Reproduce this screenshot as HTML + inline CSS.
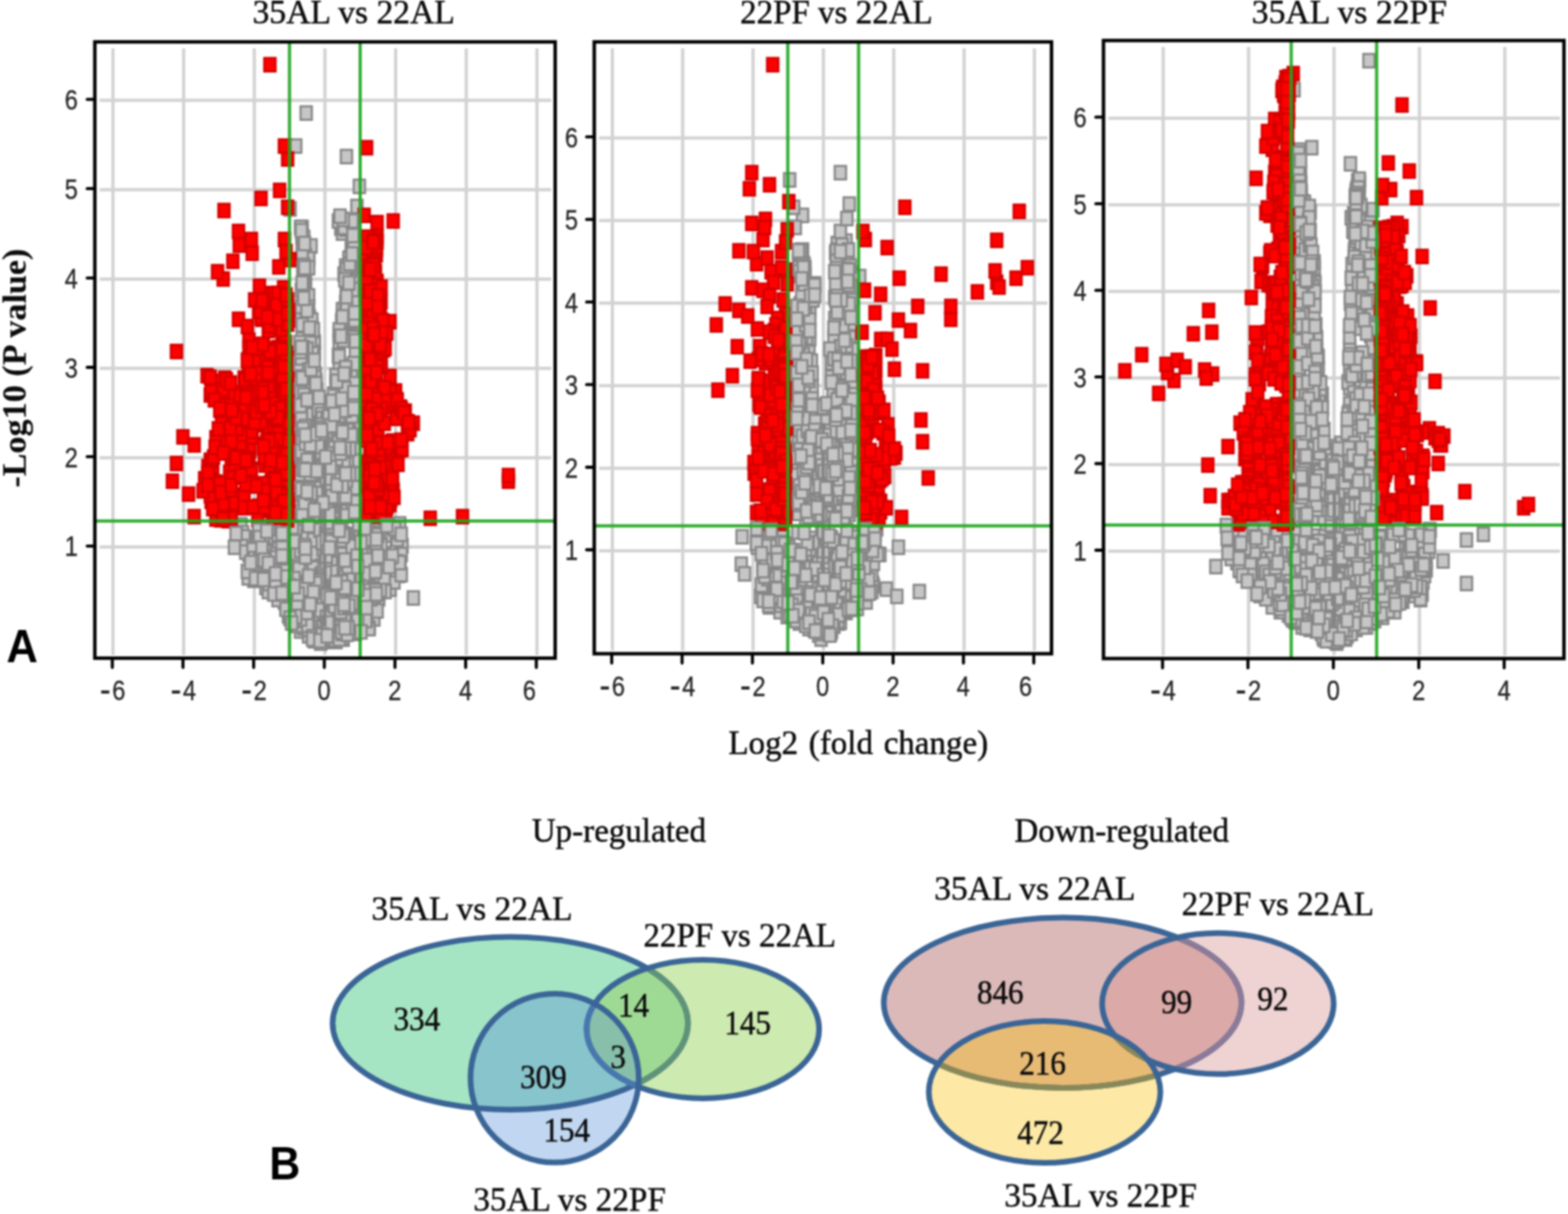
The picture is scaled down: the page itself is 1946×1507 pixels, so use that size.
<!DOCTYPE html>
<html lang="en"><head><meta charset="utf-8"><title>Figure</title>
<style>
html,body{margin:0;padding:0;background:#fff}
svg{display:block;filter:blur(1.0px)}
text{font-family:"Liberation Serif","DejaVu Serif",serif;fill:#0c0c0c;stroke:#0c0c0c;stroke-width:.55px}
.t{font-size:41px}
.n{font-size:40px}
.k text{font-family:"Liberation Sans","DejaVu Sans",sans-serif;font-size:33.5px;fill:#262626;stroke:#262626;stroke-width:.3px;text-anchor:middle}
.ab{font-family:"Liberation Sans","DejaVu Sans",sans-serif;font-weight:bold;font-size:54px;fill:#000;stroke:none}
.g rect{width:14.0px;height:16.7px;fill:#c6c6c6;stroke:#878787;stroke-width:2.7px}
.r rect{width:14.0px;height:16.7px;fill:#ff0000;stroke:#d40000;stroke-width:2.7px}
.grid{stroke:#d2d2d2;stroke-width:4;fill:none}
.gl{stroke:#1fa61f;stroke-width:4;fill:none;opacity:.92}
.fr{stroke:#000;stroke-width:4.3;fill:none}
.tk{stroke:#000;stroke-width:3.8;fill:none;stroke-linecap:round}
.ve{stroke:#3a6596;stroke-width:7;fill:none}
</style></head>
<body>
<svg width="1946" height="1507" viewBox="0 0 1946 1507">
<rect width="1946" height="1507" fill="#fff"/>
<g id="panel1">
<path class="grid" d="M140.2 60.0V813.0M227.9 60.0V813.0M315.6 60.0V813.0M403.3 60.0V813.0M491.0 60.0V813.0M578.7 60.0V813.0M666.4 60.0V813.0M123.7 679.1H684.0M123.7 568.2H684.0M123.7 457.3H684.0M123.7 346.4H684.0M123.7 235.5H684.0M123.7 124.6H684.0"/>
<g class="g"><rect x="415" y="588"/><rect x="432" y="677"/><rect x="338" y="649"/><rect x="434" y="550"/><rect x="419" y="570"/><rect x="388" y="577"/><rect x="308" y="712"/><rect x="386" y="777"/><rect x="308" y="708"/><rect x="363" y="716"/><rect x="429" y="380"/><rect x="478" y="656"/><rect x="430" y="314"/><rect x="361" y="744"/><rect x="374" y="579"/><rect x="457" y="719"/><rect x="328" y="663"/><rect x="388" y="785"/><rect x="365" y="662"/><rect x="402" y="628"/><rect x="380" y="753"/><rect x="292" y="643"/><rect x="408" y="532"/><rect x="430" y="662"/><rect x="294" y="653"/><rect x="346" y="739"/><rect x="420" y="544"/><rect x="387" y="753"/><rect x="372" y="749"/><rect x="429" y="446"/><rect x="428" y="522"/><rect x="385" y="772"/><rect x="432" y="774"/><rect x="377" y="605"/><rect x="370" y="302"/><rect x="427" y="775"/><rect x="323" y="721"/><rect x="369" y="688"/><rect x="326" y="726"/><rect x="389" y="691"/><rect x="425" y="745"/><rect x="416" y="579"/><rect x="387" y="615"/><rect x="310" y="711"/><rect x="433" y="378"/><rect x="430" y="343"/><rect x="368" y="754"/><rect x="401" y="730"/><rect x="431" y="737"/><rect x="435" y="700"/><rect x="417" y="453"/><rect x="372" y="507"/><rect x="320" y="660"/><rect x="383" y="760"/><rect x="428" y="332"/><rect x="319" y="710"/><rect x="485" y="663"/><rect x="483" y="690"/><rect x="405" y="580"/><rect x="320" y="649"/><rect x="422" y="322"/><rect x="485" y="647"/><rect x="395" y="679"/><rect x="378" y="504"/><rect x="385" y="538"/><rect x="423" y="186"/><rect x="414" y="742"/><rect x="386" y="592"/><rect x="418" y="508"/><rect x="446" y="742"/><rect x="408" y="659"/><rect x="423" y="747"/><rect x="369" y="296"/><rect x="365" y="524"/><rect x="405" y="721"/><rect x="369" y="754"/><rect x="449" y="753"/><rect x="461" y="683"/><rect x="353" y="251"/><rect x="416" y="630"/><rect x="424" y="459"/><rect x="336" y="675"/><rect x="410" y="528"/><rect x="411" y="564"/><rect x="383" y="631"/><rect x="306" y="668"/><rect x="372" y="346"/><rect x="442" y="664"/><rect x="460" y="652"/><rect x="436" y="248"/><rect x="380" y="438"/><rect x="368" y="727"/><rect x="378" y="550"/><rect x="429" y="670"/><rect x="442" y="698"/><rect x="322" y="694"/><rect x="389" y="531"/><rect x="392" y="740"/><rect x="368" y="288"/><rect x="405" y="594"/><rect x="412" y="660"/><rect x="367" y="517"/><rect x="451" y="769"/><rect x="431" y="310"/><rect x="506" y="734"/><rect x="369" y="601"/><rect x="467" y="723"/><rect x="376" y="309"/><rect x="450" y="661"/><rect x="360" y="644"/><rect x="367" y="642"/><rect x="301" y="709"/><rect x="401" y="591"/><rect x="432" y="457"/><rect x="383" y="418"/><rect x="426" y="273"/><rect x="414" y="545"/><rect x="470" y="646"/><rect x="427" y="359"/><rect x="373" y="441"/><rect x="390" y="684"/><rect x="377" y="385"/><rect x="416" y="586"/><rect x="344" y="649"/><rect x="407" y="539"/><rect x="382" y="737"/><rect x="365" y="473"/><rect x="400" y="549"/><rect x="416" y="785"/><rect x="468" y="709"/><rect x="361" y="652"/><rect x="434" y="403"/><rect x="410" y="741"/><rect x="383" y="416"/><rect x="386" y="755"/><rect x="377" y="416"/><rect x="449" y="758"/><rect x="366" y="485"/><rect x="413" y="540"/><rect x="417" y="650"/><rect x="412" y="673"/><rect x="434" y="564"/><rect x="410" y="785"/><rect x="417" y="480"/><rect x="461" y="675"/><rect x="369" y="527"/><rect x="424" y="560"/><rect x="384" y="787"/><rect x="353" y="721"/><rect x="455" y="709"/><rect x="383" y="430"/><rect x="458" y="709"/><rect x="319" y="685"/><rect x="461" y="663"/><rect x="363" y="760"/><rect x="430" y="299"/><rect x="444" y="678"/><rect x="385" y="464"/><rect x="457" y="760"/><rect x="362" y="748"/><rect x="334" y="719"/><rect x="463" y="735"/><rect x="375" y="314"/><rect x="367" y="630"/><rect x="433" y="533"/><rect x="411" y="606"/><rect x="458" y="730"/><rect x="367" y="567"/><rect x="323" y="698"/><rect x="419" y="654"/><rect x="377" y="395"/><rect x="438" y="773"/><rect x="373" y="469"/><rect x="371" y="768"/><rect x="378" y="573"/><rect x="415" y="569"/><rect x="405" y="731"/><rect x="408" y="768"/><rect x="413" y="433"/><rect x="356" y="736"/><rect x="422" y="667"/><rect x="381" y="402"/><rect x="394" y="740"/><rect x="421" y="391"/><rect x="389" y="778"/><rect x="367" y="389"/><rect x="380" y="719"/><rect x="367" y="500"/><rect x="386" y="745"/><rect x="396" y="595"/><rect x="477" y="723"/><rect x="380" y="666"/><rect x="482" y="646"/><rect x="416" y="588"/><rect x="384" y="670"/><rect x="360" y="768"/><rect x="417" y="504"/><rect x="432" y="585"/><rect x="312" y="693"/><rect x="404" y="571"/><rect x="368" y="408"/><rect x="397" y="778"/><rect x="397" y="787"/><rect x="364" y="518"/><rect x="379" y="596"/><rect x="379" y="297"/><rect x="405" y="773"/><rect x="409" y="535"/><rect x="407" y="481"/><rect x="488" y="706"/><rect x="434" y="677"/><rect x="393" y="574"/><rect x="342" y="643"/><rect x="351" y="756"/><rect x="368" y="274"/><rect x="295" y="665"/><rect x="354" y="744"/><rect x="422" y="506"/><rect x="348" y="694"/><rect x="396" y="561"/><rect x="408" y="784"/><rect x="432" y="278"/><rect x="362" y="678"/><rect x="429" y="301"/><rect x="437" y="728"/><rect x="367" y="750"/><rect x="352" y="662"/><rect x="383" y="727"/><rect x="441" y="687"/><rect x="415" y="765"/><rect x="419" y="785"/><rect x="416" y="275"/><rect x="372" y="343"/><rect x="413" y="619"/><rect x="426" y="729"/><rect x="393" y="536"/><rect x="386" y="727"/><rect x="421" y="688"/><rect x="431" y="278"/><rect x="375" y="320"/><rect x="367" y="480"/><rect x="432" y="367"/><rect x="454" y="745"/><rect x="449" y="717"/><rect x="396" y="788"/><rect x="428" y="413"/><rect x="310" y="709"/><rect x="424" y="616"/><rect x="411" y="620"/><rect x="444" y="684"/><rect x="382" y="653"/><rect x="298" y="659"/><rect x="414" y="435"/><rect x="429" y="391"/><rect x="365" y="536"/><rect x="404" y="781"/><rect x="429" y="457"/><rect x="354" y="725"/><rect x="433" y="655"/><rect x="438" y="642"/><rect x="462" y="677"/><rect x="443" y="761"/><rect x="431" y="580"/><rect x="389" y="508"/><rect x="414" y="444"/><rect x="379" y="631"/><rect x="384" y="456"/><rect x="380" y="716"/><rect x="457" y="735"/><rect x="427" y="768"/><rect x="406" y="603"/><rect x="427" y="579"/><rect x="388" y="509"/><rect x="333" y="729"/><rect x="371" y="396"/><rect x="326" y="677"/><rect x="365" y="561"/><rect x="417" y="601"/><rect x="378" y="781"/><rect x="418" y="376"/><rect x="442" y="719"/><rect x="417" y="390"/><rect x="368" y="764"/><rect x="409" y="559"/><rect x="434" y="430"/><rect x="371" y="319"/><rect x="414" y="416"/><rect x="365" y="612"/><rect x="405" y="516"/><rect x="431" y="337"/><rect x="376" y="359"/><rect x="381" y="534"/><rect x="402" y="572"/><rect x="411" y="538"/><rect x="388" y="716"/><rect x="319" y="682"/><rect x="369" y="286"/><rect x="392" y="787"/><rect x="383" y="787"/><rect x="419" y="736"/><rect x="369" y="590"/><rect x="417" y="582"/><rect x="376" y="445"/><rect x="417" y="569"/><rect x="389" y="680"/><rect x="360" y="679"/><rect x="338" y="705"/><rect x="368" y="567"/><rect x="412" y="506"/><rect x="432" y="443"/><rect x="349" y="664"/><rect x="427" y="312"/><rect x="374" y="324"/><rect x="471" y="701"/><rect x="452" y="726"/><rect x="375" y="541"/><rect x="408" y="723"/><rect x="387" y="617"/><rect x="372" y="309"/><rect x="416" y="552"/><rect x="414" y="434"/><rect x="447" y="697"/><rect x="404" y="513"/><rect x="388" y="500"/><rect x="366" y="453"/><rect x="379" y="718"/><rect x="449" y="736"/><rect x="427" y="544"/><rect x="396" y="597"/><rect x="463" y="728"/><rect x="432" y="529"/><rect x="376" y="373"/><rect x="367" y="575"/><rect x="360" y="173"/><rect x="401" y="566"/><rect x="393" y="783"/><rect x="365" y="468"/><rect x="348" y="746"/><rect x="347" y="677"/><rect x="382" y="707"/><rect x="449" y="681"/><rect x="439" y="223"/><rect x="422" y="451"/><rect x="377" y="437"/><rect x="405" y="782"/><rect x="400" y="586"/><rect x="390" y="518"/><rect x="416" y="715"/><rect x="339" y="673"/><rect x="415" y="783"/><rect x="404" y="523"/><rect x="373" y="602"/><rect x="418" y="281"/><rect x="410" y="788"/><rect x="407" y="626"/><rect x="448" y="705"/><rect x="489" y="688"/><rect x="377" y="697"/><rect x="372" y="575"/><rect x="488" y="659"/><rect x="358" y="743"/><rect x="428" y="327"/><rect x="373" y="597"/><rect x="426" y="659"/><rect x="465" y="658"/><rect x="397" y="705"/><rect x="401" y="551"/><rect x="434" y="778"/><rect x="368" y="703"/><rect x="489" y="685"/><rect x="393" y="657"/><rect x="366" y="775"/><rect x="400" y="780"/><rect x="387" y="754"/><rect x="369" y="322"/><rect x="370" y="771"/><rect x="368" y="739"/><rect x="302" y="680"/><rect x="460" y="675"/><rect x="373" y="392"/><rect x="398" y="783"/><rect x="439" y="742"/><rect x="399" y="541"/><rect x="432" y="410"/><rect x="423" y="614"/><rect x="339" y="696"/><rect x="426" y="735"/><rect x="300" y="701"/><rect x="414" y="714"/><rect x="413" y="671"/><rect x="410" y="565"/><rect x="370" y="570"/><rect x="315" y="661"/><rect x="394" y="727"/><rect x="397" y="519"/><rect x="368" y="606"/><rect x="376" y="643"/><rect x="394" y="779"/><rect x="374" y="525"/><rect x="387" y="771"/><rect x="405" y="767"/><rect x="427" y="312"/><rect x="444" y="761"/><rect x="430" y="301"/><rect x="423" y="348"/><rect x="430" y="721"/><rect x="353" y="758"/><rect x="423" y="347"/><rect x="489" y="700"/><rect x="461" y="750"/><rect x="431" y="298"/><rect x="366" y="274"/><rect x="420" y="332"/><rect x="449" y="770"/><rect x="418" y="632"/><rect x="371" y="601"/><rect x="336" y="680"/><rect x="419" y="662"/><rect x="441" y="772"/><rect x="366" y="675"/><rect x="417" y="767"/><rect x="373" y="132"/><rect x="426" y="547"/><rect x="399" y="695"/><rect x="394" y="785"/><rect x="378" y="762"/><rect x="416" y="460"/><rect x="395" y="778"/><rect x="424" y="562"/><rect x="465" y="694"/><rect x="422" y="602"/><rect x="385" y="766"/><rect x="407" y="625"/><rect x="489" y="642"/><rect x="365" y="737"/><rect x="338" y="655"/><rect x="381" y="429"/><rect x="397" y="756"/><rect x="380" y="397"/><rect x="336" y="684"/><rect x="338" y="736"/><rect x="347" y="690"/><rect x="362" y="768"/><rect x="360" y="701"/><rect x="362" y="762"/><rect x="386" y="647"/><rect x="368" y="285"/><rect x="368" y="724"/><rect x="393" y="721"/><rect x="433" y="389"/><rect x="467" y="681"/><rect x="409" y="511"/><rect x="456" y="650"/><rect x="451" y="643"/><rect x="419" y="777"/><rect x="382" y="541"/><rect x="402" y="598"/><rect x="367" y="512"/><rect x="373" y="627"/><rect x="466" y="712"/><rect x="417" y="491"/><rect x="421" y="621"/><rect x="387" y="533"/><rect x="428" y="321"/><rect x="442" y="676"/><rect x="426" y="313"/><rect x="443" y="720"/><rect x="361" y="698"/><rect x="405" y="751"/><rect x="287" y="657"/><rect x="433" y="618"/><rect x="386" y="476"/><rect x="367" y="372"/><rect x="432" y="320"/><rect x="354" y="760"/><rect x="375" y="451"/><rect x="365" y="746"/><rect x="451" y="772"/><rect x="362" y="743"/><rect x="347" y="694"/><rect x="468" y="695"/><rect x="420" y="462"/><rect x="434" y="517"/><rect x="386" y="787"/><rect x="432" y="351"/><rect x="424" y="659"/><rect x="435" y="751"/><rect x="451" y="772"/><rect x="376" y="313"/><rect x="368" y="753"/><rect x="379" y="583"/><rect x="421" y="627"/><rect x="363" y="695"/><rect x="418" y="783"/><rect x="387" y="649"/><rect x="407" y="609"/><rect x="436" y="711"/><rect x="376" y="568"/><rect x="382" y="781"/><rect x="407" y="786"/><rect x="424" y="679"/><rect x="418" y="698"/><rect x="381" y="646"/><rect x="432" y="364"/><rect x="346" y="674"/><rect x="370" y="287"/><rect x="430" y="323"/><rect x="434" y="597"/><rect x="327" y="716"/><rect x="327" y="648"/><rect x="482" y="714"/><rect x="405" y="561"/><rect x="404" y="537"/><rect x="471" y="726"/><rect x="406" y="783"/><rect x="385" y="679"/><rect x="376" y="555"/><rect x="393" y="694"/><rect x="354" y="653"/><rect x="398" y="531"/><rect x="450" y="725"/><rect x="465" y="724"/><rect x="416" y="662"/><rect x="376" y="777"/><rect x="416" y="599"/><rect x="459" y="723"/><rect x="383" y="734"/><rect x="412" y="559"/><rect x="492" y="669"/><rect x="370" y="342"/><rect x="356" y="745"/><rect x="452" y="725"/><rect x="422" y="627"/><rect x="376" y="781"/><rect x="446" y="704"/><rect x="387" y="541"/><rect x="296" y="658"/><rect x="391" y="703"/><rect x="485" y="699"/><rect x="317" y="646"/><rect x="402" y="783"/><rect x="483" y="648"/><rect x="422" y="367"/><rect x="409" y="781"/><rect x="426" y="754"/><rect x="422" y="706"/><rect x="376" y="457"/><rect x="431" y="411"/><rect x="411" y="777"/><rect x="412" y="578"/><rect x="427" y="549"/><rect x="441" y="758"/><rect x="444" y="661"/><rect x="432" y="516"/><rect x="398" y="598"/><rect x="423" y="764"/><rect x="424" y="620"/><rect x="403" y="614"/><rect x="412" y="743"/><rect x="401" y="786"/><rect x="428" y="271"/><rect x="343" y="672"/><rect x="378" y="414"/><rect x="453" y="735"/><rect x="391" y="520"/><rect x="370" y="326"/><rect x="310" y="710"/><rect x="430" y="283"/><rect x="371" y="615"/><rect x="414" y="407"/><rect x="316" y="678"/><rect x="369" y="527"/><rect x="423" y="375"/><rect x="356" y="646"/><rect x="491" y="705"/><rect x="429" y="322"/><rect x="336" y="709"/><rect x="417" y="727"/><rect x="401" y="745"/><rect x="368" y="308"/><rect x="367" y="627"/><rect x="417" y="735"/><rect x="366" y="580"/><rect x="409" y="588"/><rect x="389" y="658"/><rect x="423" y="326"/><rect x="388" y="782"/><rect x="399" y="736"/><rect x="344" y="684"/><rect x="421" y="552"/><rect x="293" y="670"/><rect x="412" y="680"/><rect x="448" y="657"/><rect x="418" y="508"/><rect x="380" y="389"/><rect x="418" y="765"/><rect x="374" y="377"/><rect x="368" y="525"/><rect x="394" y="554"/><rect x="406" y="766"/><rect x="475" y="680"/><rect x="419" y="414"/><rect x="416" y="773"/><rect x="374" y="657"/><rect x="347" y="684"/><rect x="389" y="758"/><rect x="409" y="502"/><rect x="373" y="741"/><rect x="413" y="266"/><rect x="444" y="747"/><rect x="364" y="698"/><rect x="430" y="616"/><rect x="466" y="669"/><rect x="412" y="775"/><rect x="389" y="485"/><rect x="367" y="278"/><rect x="400" y="561"/><rect x="448" y="687"/><rect x="398" y="751"/><rect x="394" y="559"/><rect x="448" y="651"/><rect x="430" y="692"/><rect x="410" y="458"/><rect x="366" y="479"/><rect x="343" y="682"/><rect x="407" y="760"/><rect x="427" y="514"/><rect x="403" y="768"/><rect x="370" y="321"/><rect x="486" y="669"/><rect x="423" y="656"/><rect x="414" y="741"/><rect x="384" y="661"/><rect x="422" y="276"/><rect x="426" y="732"/><rect x="423" y="632"/></g>
<g class="r"><rect x="348" y="557"/><rect x="454" y="370"/><rect x="344" y="418"/><rect x="317" y="369"/><rect x="316" y="451"/><rect x="466" y="561"/><rect x="476" y="614"/><rect x="447" y="318"/><rect x="329" y="457"/><rect x="450" y="481"/><rect x="329" y="591"/><rect x="309" y="429"/><rect x="339" y="323"/><rect x="460" y="592"/><rect x="450" y="456"/><rect x="448" y="318"/><rect x="488" y="545"/><rect x="345" y="365"/><rect x="350" y="432"/><rect x="327" y="544"/><rect x="499" y="530"/><rect x="476" y="562"/><rect x="624" y="589"/><rect x="276" y="638"/><rect x="267" y="637"/><rect x="317" y="238"/><rect x="259" y="622"/><rect x="316" y="509"/><rect x="331" y="509"/><rect x="474" y="497"/><rect x="341" y="586"/><rect x="321" y="543"/><rect x="314" y="620"/><rect x="291" y="606"/><rect x="448" y="486"/><rect x="450" y="389"/><rect x="451" y="602"/><rect x="315" y="420"/><rect x="456" y="329"/><rect x="468" y="407"/><rect x="477" y="459"/><rect x="449" y="350"/><rect x="469" y="426"/><rect x="347" y="434"/><rect x="347" y="445"/><rect x="345" y="446"/><rect x="330" y="575"/><rect x="479" y="590"/><rect x="458" y="354"/><rect x="455" y="295"/><rect x="466" y="447"/><rect x="499" y="515"/><rect x="341" y="590"/><rect x="331" y="444"/><rect x="351" y="613"/><rect x="339" y="503"/><rect x="343" y="528"/><rect x="457" y="357"/><rect x="331" y="356"/><rect x="350" y="602"/><rect x="447" y="323"/><rect x="448" y="349"/><rect x="465" y="364"/><rect x="348" y="440"/><rect x="328" y="358"/><rect x="343" y="607"/><rect x="261" y="636"/><rect x="459" y="385"/><rect x="300" y="577"/><rect x="207" y="589"/><rect x="310" y="435"/><rect x="305" y="289"/><rect x="350" y="457"/><rect x="282" y="616"/><rect x="472" y="546"/><rect x="302" y="414"/><rect x="473" y="603"/><rect x="448" y="621"/><rect x="451" y="388"/><rect x="346" y="484"/><rect x="314" y="378"/><rect x="306" y="306"/><rect x="448" y="578"/><rect x="284" y="498"/><rect x="451" y="582"/><rect x="457" y="332"/><rect x="339" y="366"/><rect x="299" y="500"/><rect x="261" y="590"/><rect x="348" y="563"/><rect x="277" y="485"/><rect x="270" y="338"/><rect x="320" y="420"/><rect x="303" y="551"/><rect x="455" y="332"/><rect x="332" y="445"/><rect x="477" y="618"/><rect x="271" y="489"/><rect x="452" y="374"/><rect x="331" y="581"/><rect x="350" y="637"/><rect x="460" y="621"/><rect x="288" y="544"/><rect x="452" y="557"/><rect x="450" y="503"/><rect x="333" y="485"/><rect x="304" y="579"/><rect x="337" y="430"/><rect x="296" y="609"/><rect x="496" y="502"/><rect x="299" y="589"/><rect x="306" y="474"/><rect x="278" y="600"/><rect x="456" y="363"/><rect x="284" y="574"/><rect x="449" y="476"/><rect x="317" y="519"/><rect x="346" y="608"/><rect x="257" y="571"/><rect x="270" y="543"/><rect x="461" y="286"/><rect x="340" y="611"/><rect x="453" y="545"/><rect x="298" y="567"/><rect x="332" y="539"/><rect x="479" y="567"/><rect x="281" y="521"/><rect x="280" y="562"/><rect x="350" y="603"/><rect x="451" y="627"/><rect x="338" y="400"/><rect x="284" y="568"/><rect x="453" y="497"/><rect x="348" y="430"/><rect x="325" y="537"/><rect x="339" y="433"/><rect x="267" y="478"/><rect x="476" y="492"/><rect x="334" y="549"/><rect x="341" y="433"/><rect x="448" y="532"/><rect x="302" y="561"/><rect x="256" y="475"/><rect x="309" y="364"/><rect x="350" y="530"/><rect x="263" y="329"/><rect x="296" y="622"/><rect x="338" y="423"/><rect x="453" y="486"/><rect x="331" y="384"/><rect x="463" y="597"/><rect x="448" y="394"/><rect x="481" y="266"/><rect x="450" y="330"/><rect x="336" y="487"/><rect x="325" y="530"/><rect x="462" y="363"/><rect x="527" y="635"/><rect x="272" y="536"/><rect x="348" y="580"/><rect x="296" y="461"/><rect x="448" y="566"/><rect x="457" y="296"/><rect x="322" y="563"/><rect x="347" y="417"/><rect x="460" y="407"/><rect x="267" y="614"/><rect x="290" y="296"/><rect x="332" y="425"/><rect x="457" y="290"/><rect x="449" y="403"/><rect x="323" y="568"/><rect x="272" y="461"/><rect x="452" y="374"/><rect x="306" y="534"/><rect x="327" y="469"/><rect x="465" y="586"/><rect x="451" y="565"/><rect x="345" y="462"/><rect x="335" y="577"/><rect x="339" y="505"/><rect x="448" y="576"/><rect x="322" y="569"/><rect x="337" y="479"/><rect x="506" y="517"/><rect x="448" y="538"/><rect x="269" y="630"/><rect x="449" y="309"/><rect x="336" y="491"/><rect x="481" y="600"/><rect x="293" y="540"/><rect x="448" y="288"/><rect x="456" y="461"/><rect x="452" y="434"/><rect x="328" y="621"/><rect x="350" y="249"/><rect x="453" y="630"/><rect x="227" y="605"/><rect x="300" y="530"/><rect x="347" y="430"/><rect x="316" y="440"/><rect x="472" y="547"/><rect x="343" y="474"/><rect x="350" y="491"/><rect x="450" y="293"/><rect x="459" y="308"/><rect x="449" y="341"/><rect x="255" y="614"/><rect x="448" y="327"/><rect x="270" y="529"/><rect x="280" y="635"/><rect x="327" y="445"/><rect x="454" y="360"/><rect x="447" y="592"/><rect x="328" y="435"/><rect x="466" y="444"/><rect x="343" y="489"/><rect x="264" y="468"/><rect x="478" y="612"/><rect x="450" y="432"/><rect x="271" y="617"/><rect x="305" y="574"/><rect x="254" y="563"/><rect x="350" y="500"/><rect x="348" y="556"/><rect x="350" y="514"/><rect x="341" y="585"/><rect x="459" y="630"/><rect x="463" y="434"/><rect x="478" y="591"/><rect x="350" y="590"/><rect x="447" y="631"/><rect x="624" y="582"/><rect x="254" y="607"/><rect x="251" y="571"/><rect x="454" y="442"/><rect x="323" y="425"/><rect x="461" y="632"/><rect x="461" y="375"/><rect x="451" y="409"/><rect x="460" y="308"/><rect x="484" y="477"/><rect x="477" y="391"/><rect x="485" y="511"/><rect x="329" y="625"/><rect x="337" y="383"/><rect x="326" y="614"/><rect x="319" y="481"/><rect x="332" y="624"/><rect x="473" y="621"/><rect x="453" y="400"/><rect x="334" y="449"/><rect x="342" y="627"/><rect x="462" y="364"/><rect x="320" y="623"/><rect x="318" y="388"/><rect x="330" y="622"/><rect x="265" y="531"/><rect x="319" y="592"/><rect x="347" y="515"/><rect x="466" y="489"/><rect x="321" y="601"/><rect x="269" y="465"/><rect x="472" y="633"/><rect x="452" y="335"/><rect x="350" y="189"/><rect x="351" y="389"/><rect x="448" y="325"/><rect x="466" y="619"/><rect x="302" y="446"/><rect x="449" y="627"/><rect x="473" y="621"/><rect x="323" y="428"/><rect x="212" y="428"/><rect x="461" y="268"/><rect x="292" y="542"/><rect x="478" y="478"/><rect x="346" y="289"/><rect x="344" y="606"/><rect x="273" y="552"/><rect x="285" y="511"/><rect x="449" y="286"/><rect x="297" y="463"/><rect x="220" y="534"/><rect x="331" y="634"/><rect x="464" y="505"/><rect x="491" y="550"/><rect x="349" y="597"/><rect x="462" y="524"/><rect x="279" y="495"/><rect x="455" y="335"/><rect x="335" y="373"/><rect x="346" y="372"/><rect x="311" y="458"/><rect x="349" y="519"/><rect x="449" y="306"/><rect x="466" y="389"/><rect x="326" y="402"/><rect x="461" y="359"/><rect x="338" y="485"/><rect x="449" y="523"/><rect x="449" y="515"/><rect x="450" y="444"/><rect x="449" y="389"/><rect x="460" y="470"/><rect x="471" y="488"/><rect x="345" y="586"/><rect x="454" y="304"/><rect x="460" y="300"/><rect x="567" y="633"/><rect x="452" y="445"/><rect x="323" y="434"/><rect x="346" y="523"/><rect x="455" y="363"/><rect x="462" y="357"/><rect x="278" y="578"/><rect x="294" y="489"/><rect x="448" y="632"/><rect x="255" y="564"/><rect x="450" y="442"/><rect x="449" y="359"/><rect x="455" y="353"/><rect x="350" y="573"/><rect x="458" y="321"/><rect x="343" y="488"/><rect x="466" y="366"/><rect x="254" y="482"/><rect x="349" y="562"/><rect x="301" y="529"/><rect x="269" y="500"/><rect x="212" y="567"/><rect x="448" y="419"/><rect x="270" y="617"/><rect x="289" y="388"/><rect x="342" y="367"/><rect x="313" y="462"/><rect x="465" y="370"/><rect x="247" y="586"/><rect x="320" y="548"/><rect x="346" y="527"/><rect x="324" y="540"/><rect x="462" y="371"/><rect x="251" y="579"/><rect x="456" y="407"/><rect x="325" y="370"/><rect x="461" y="601"/><rect x="333" y="357"/><rect x="348" y="514"/><rect x="304" y="438"/><rect x="350" y="513"/><rect x="297" y="497"/><rect x="349" y="610"/><rect x="451" y="475"/><rect x="454" y="431"/><rect x="458" y="295"/><rect x="461" y="341"/><rect x="317" y="435"/><rect x="328" y="566"/><rect x="458" y="384"/><rect x="345" y="349"/><rect x="452" y="461"/><rect x="305" y="438"/><rect x="469" y="411"/><rect x="329" y="385"/><rect x="300" y="397"/><rect x="465" y="542"/><rect x="270" y="635"/><rect x="330" y="434"/><rect x="450" y="318"/><rect x="447" y="610"/><rect x="345" y="608"/><rect x="468" y="588"/><rect x="303" y="482"/><rect x="270" y="475"/><rect x="347" y="591"/><rect x="271" y="253"/><rect x="348" y="552"/><rect x="343" y="483"/><rect x="326" y="474"/><rect x="343" y="579"/><rect x="274" y="552"/><rect x="475" y="572"/><rect x="449" y="464"/><rect x="317" y="386"/><rect x="257" y="623"/><rect x="282" y="584"/><rect x="449" y="375"/><rect x="266" y="539"/><rect x="343" y="374"/><rect x="350" y="555"/><rect x="344" y="555"/><rect x="340" y="437"/><rect x="255" y="478"/><rect x="346" y="458"/><rect x="303" y="457"/><rect x="449" y="491"/><rect x="335" y="388"/><rect x="452" y="430"/><rect x="282" y="506"/><rect x="346" y="597"/><rect x="470" y="571"/><rect x="341" y="433"/><rect x="449" y="411"/><rect x="245" y="601"/><rect x="324" y="495"/><rect x="337" y="425"/><rect x="464" y="557"/><rect x="455" y="511"/><rect x="349" y="502"/><rect x="453" y="336"/><rect x="301" y="445"/><rect x="350" y="622"/><rect x="449" y="532"/><rect x="480" y="582"/><rect x="274" y="529"/><rect x="351" y="377"/><rect x="313" y="637"/><rect x="284" y="479"/><rect x="345" y="481"/><rect x="339" y="358"/><rect x="454" y="510"/><rect x="331" y="518"/><rect x="344" y="630"/><rect x="266" y="592"/><rect x="259" y="488"/><rect x="342" y="371"/><rect x="307" y="440"/><rect x="315" y="451"/><rect x="463" y="373"/><rect x="234" y="544"/><rect x="454" y="312"/><rect x="453" y="601"/><rect x="307" y="499"/><rect x="346" y="597"/><rect x="470" y="517"/><rect x="291" y="483"/><rect x="336" y="426"/><rect x="456" y="482"/><rect x="343" y="404"/><rect x="346" y="443"/><rect x="464" y="566"/><rect x="342" y="439"/><rect x="345" y="420"/><rect x="461" y="445"/><rect x="455" y="421"/><rect x="475" y="608"/><rect x="452" y="616"/><rect x="345" y="607"/><rect x="307" y="621"/><rect x="353" y="314"/><rect x="317" y="517"/><rect x="463" y="599"/><rect x="454" y="552"/><rect x="347" y="533"/><rect x="339" y="548"/><rect x="327" y="531"/><rect x="482" y="609"/><rect x="347" y="494"/><rect x="311" y="464"/><rect x="447" y="359"/><rect x="334" y="498"/><rect x="448" y="333"/><rect x="320" y="424"/><rect x="346" y="552"/><rect x="348" y="457"/><rect x="272" y="538"/><rect x="333" y="631"/><rect x="448" y="590"/><rect x="349" y="619"/><rect x="448" y="398"/><rect x="349" y="608"/><rect x="490" y="497"/><rect x="330" y="487"/><rect x="258" y="559"/><rect x="338" y="615"/><rect x="306" y="426"/><rect x="348" y="370"/><rect x="350" y="451"/><rect x="348" y="530"/><rect x="301" y="562"/><rect x="351" y="578"/><rect x="305" y="534"/><rect x="305" y="527"/><rect x="333" y="525"/><rect x="460" y="580"/><rect x="448" y="477"/><rect x="261" y="535"/><rect x="466" y="630"/><rect x="460" y="302"/><rect x="346" y="516"/><rect x="347" y="417"/><rect x="301" y="438"/><rect x="328" y="546"/><rect x="298" y="593"/><rect x="321" y="372"/><rect x="448" y="321"/><rect x="450" y="377"/><rect x="480" y="539"/><rect x="325" y="443"/><rect x="340" y="603"/><rect x="350" y="364"/><rect x="449" y="383"/><rect x="466" y="499"/><rect x="333" y="537"/><rect x="448" y="306"/><rect x="264" y="524"/><rect x="302" y="423"/><rect x="463" y="393"/><rect x="291" y="579"/><rect x="341" y="502"/><rect x="453" y="299"/><rect x="343" y="487"/><rect x="349" y="475"/><rect x="315" y="492"/><rect x="451" y="608"/><rect x="330" y="537"/><rect x="451" y="384"/><rect x="346" y="423"/><rect x="326" y="455"/><rect x="451" y="428"/><rect x="327" y="396"/><rect x="234" y="633"/><rect x="448" y="175"/><rect x="466" y="348"/><rect x="460" y="575"/><rect x="345" y="458"/><rect x="471" y="424"/><rect x="462" y="447"/><rect x="268" y="508"/><rect x="320" y="427"/><rect x="292" y="531"/><rect x="465" y="572"/><rect x="340" y="634"/><rect x="270" y="636"/><rect x="348" y="304"/><rect x="451" y="364"/><rect x="342" y="606"/><rect x="450" y="365"/><rect x="456" y="586"/><rect x="311" y="488"/><rect x="282" y="316"/><rect x="338" y="530"/><rect x="336" y="603"/><rect x="289" y="279"/><rect x="346" y="363"/><rect x="473" y="405"/><rect x="341" y="541"/><rect x="323" y="431"/><rect x="452" y="573"/><rect x="452" y="587"/><rect x="315" y="347"/><rect x="455" y="377"/><rect x="260" y="547"/><rect x="454" y="575"/><rect x="287" y="524"/><rect x="344" y="461"/><rect x="338" y="356"/><rect x="333" y="508"/><rect x="350" y="394"/><rect x="499" y="521"/><rect x="347" y="579"/><rect x="337" y="388"/><rect x="311" y="595"/><rect x="336" y="371"/><rect x="480" y="586"/><rect x="454" y="335"/><rect x="335" y="512"/><rect x="267" y="603"/><rect x="320" y="364"/><rect x="461" y="292"/><rect x="333" y="493"/><rect x="280" y="540"/><rect x="345" y="553"/><rect x="486" y="488"/><rect x="452" y="438"/><rect x="305" y="434"/><rect x="295" y="512"/><rect x="340" y="499"/><rect x="456" y="413"/><rect x="299" y="563"/><rect x="309" y="438"/><rect x="349" y="431"/><rect x="452" y="583"/><rect x="468" y="390"/><rect x="338" y="426"/><rect x="340" y="537"/><rect x="300" y="439"/><rect x="491" y="499"/><rect x="309" y="516"/><rect x="451" y="329"/><rect x="474" y="541"/><rect x="250" y="458"/><rect x="454" y="549"/><rect x="328" y="72"/><rect x="350" y="627"/><rect x="280" y="594"/><rect x="345" y="479"/><rect x="319" y="474"/><rect x="450" y="432"/><rect x="494" y="504"/><rect x="312" y="424"/><rect x="449" y="490"/><rect x="445" y="259"/><rect x="449" y="451"/><rect x="350" y="628"/><rect x="345" y="614"/><rect x="340" y="228"/><rect x="456" y="399"/><rect x="349" y="444"/><rect x="346" y="173"/><rect x="319" y="479"/><rect x="270" y="554"/><rect x="456" y="314"/><rect x="316" y="378"/><rect x="492" y="549"/><rect x="470" y="473"/><rect x="327" y="569"/><rect x="459" y="487"/><rect x="454" y="500"/><rect x="465" y="621"/><rect x="328" y="428"/><rect x="502" y="525"/><rect x="453" y="465"/><rect x="306" y="478"/><rect x="449" y="368"/><rect x="251" y="594"/><rect x="325" y="385"/><rect x="274" y="463"/><rect x="452" y="438"/><rect x="321" y="621"/><rect x="331" y="547"/><rect x="448" y="481"/><rect x="320" y="613"/><rect x="327" y="539"/><rect x="461" y="594"/><rect x="343" y="426"/><rect x="448" y="299"/><rect x="487" y="568"/><rect x="279" y="523"/><rect x="459" y="329"/><rect x="448" y="342"/><rect x="458" y="290"/><rect x="452" y="621"/><rect x="448" y="420"/><rect x="350" y="381"/><rect x="351" y="539"/><rect x="319" y="419"/><rect x="456" y="318"/><rect x="286" y="510"/><rect x="452" y="353"/><rect x="284" y="568"/><rect x="349" y="556"/><rect x="338" y="510"/><rect x="457" y="591"/><rect x="281" y="501"/><rect x="311" y="503"/><rect x="348" y="475"/><rect x="321" y="559"/><rect x="292" y="582"/><rect x="286" y="560"/><rect x="348" y="358"/><rect x="491" y="538"/><rect x="467" y="405"/><rect x="461" y="506"/><rect x="457" y="321"/><rect x="345" y="630"/><rect x="456" y="292"/><rect x="462" y="359"/><rect x="348" y="441"/><rect x="343" y="566"/><rect x="465" y="420"/><rect x="254" y="460"/><rect x="318" y="365"/><rect x="452" y="326"/><rect x="335" y="587"/><rect x="345" y="447"/><rect x="329" y="563"/><rect x="300" y="479"/><rect x="457" y="407"/><rect x="458" y="574"/><rect x="500" y="516"/><rect x="335" y="628"/><rect x="302" y="482"/><rect x="329" y="503"/><rect x="279" y="467"/><rect x="266" y="501"/><rect x="320" y="546"/><rect x="317" y="496"/><rect x="304" y="456"/><rect x="306" y="423"/><rect x="266" y="499"/><rect x="460" y="454"/><rect x="462" y="373"/><rect x="298" y="485"/><rect x="451" y="511"/><rect x="321" y="495"/><rect x="298" y="563"/></g>
<g class="g"><rect x="410" y="467"/><rect x="430" y="300"/><rect x="421" y="762"/><rect x="384" y="626"/><rect x="422" y="690"/><rect x="314" y="650"/><rect x="284" y="671"/><rect x="425" y="345"/><rect x="366" y="554"/><rect x="431" y="497"/><rect x="420" y="274"/><rect x="321" y="692"/><rect x="376" y="324"/><rect x="404" y="538"/><rect x="376" y="773"/><rect x="395" y="522"/><rect x="370" y="541"/><rect x="370" y="482"/><rect x="335" y="717"/><rect x="430" y="508"/><rect x="374" y="425"/><rect x="412" y="537"/><rect x="371" y="294"/><rect x="414" y="401"/><rect x="382" y="697"/><rect x="385" y="607"/><rect x="433" y="380"/><rect x="315" y="659"/><rect x="421" y="657"/><rect x="368" y="537"/><rect x="459" y="725"/><rect x="434" y="615"/><rect x="404" y="620"/><rect x="395" y="776"/><rect x="369" y="325"/><rect x="389" y="525"/><rect x="411" y="718"/><rect x="320" y="711"/><rect x="416" y="409"/><rect x="433" y="742"/><rect x="408" y="753"/><rect x="437" y="742"/><rect x="378" y="580"/><rect x="413" y="558"/><rect x="417" y="701"/><rect x="455" y="654"/><rect x="423" y="588"/><rect x="433" y="495"/><rect x="438" y="719"/><rect x="373" y="490"/><rect x="363" y="758"/><rect x="392" y="506"/><rect x="404" y="748"/><rect x="421" y="501"/><rect x="420" y="568"/><rect x="367" y="352"/><rect x="367" y="599"/><rect x="377" y="599"/><rect x="324" y="651"/><rect x="365" y="443"/><rect x="365" y="417"/><rect x="382" y="401"/><rect x="387" y="754"/><rect x="298" y="677"/><rect x="307" y="674"/><rect x="353" y="726"/><rect x="309" y="685"/><rect x="396" y="670"/><rect x="418" y="385"/><rect x="358" y="664"/><rect x="371" y="324"/><rect x="382" y="785"/><rect x="448" y="661"/><rect x="491" y="655"/><rect x="376" y="754"/><rect x="419" y="680"/><rect x="367" y="552"/><rect x="369" y="423"/><rect x="454" y="732"/><rect x="404" y="691"/><rect x="367" y="436"/><rect x="455" y="732"/><rect x="436" y="711"/><rect x="432" y="499"/><rect x="382" y="662"/><rect x="396" y="533"/><rect x="390" y="643"/><rect x="374" y="563"/><rect x="418" y="702"/><rect x="286" y="654"/><rect x="395" y="786"/><rect x="394" y="660"/><rect x="390" y="719"/><rect x="395" y="611"/><rect x="395" y="622"/><rect x="402" y="564"/><rect x="390" y="629"/><rect x="396" y="726"/><rect x="394" y="673"/><rect x="392" y="748"/><rect x="395" y="785"/><rect x="396" y="661"/><rect x="398" y="674"/><rect x="393" y="511"/><rect x="400" y="593"/><rect x="401" y="655"/><rect x="390" y="650"/><rect x="397" y="690"/><rect x="398" y="592"/><rect x="398" y="679"/><rect x="398" y="771"/><rect x="399" y="533"/><rect x="393" y="528"/><rect x="399" y="511"/><rect x="398" y="537"/><rect x="401" y="640"/><rect x="400" y="568"/><rect x="391" y="552"/><rect x="401" y="621"/><rect x="392" y="523"/><rect x="392" y="738"/><rect x="392" y="553"/><rect x="397" y="654"/><rect x="399" y="648"/><rect x="397" y="692"/><rect x="401" y="548"/><rect x="397" y="587"/><rect x="392" y="704"/><rect x="394" y="707"/><rect x="397" y="692"/><rect x="401" y="615"/><rect x="394" y="730"/><rect x="400" y="771"/><rect x="402" y="657"/><rect x="395" y="764"/><rect x="392" y="519"/><rect x="391" y="725"/><rect x="400" y="560"/><rect x="400" y="555"/><rect x="400" y="620"/><rect x="395" y="699"/><rect x="400" y="736"/><rect x="391" y="613"/><rect x="393" y="572"/><rect x="398" y="528"/><rect x="394" y="738"/><rect x="392" y="523"/><rect x="397" y="574"/><rect x="401" y="629"/><rect x="392" y="605"/><rect x="394" y="769"/><rect x="391" y="790"/><rect x="394" y="538"/><rect x="400" y="769"/><rect x="394" y="720"/><rect x="391" y="779"/><rect x="399" y="752"/><rect x="393" y="576"/><rect x="396" y="754"/><rect x="398" y="571"/><rect x="398" y="699"/><rect x="398" y="633"/><rect x="391" y="598"/><rect x="392" y="536"/><rect x="401" y="706"/><rect x="399" y="672"/><rect x="393" y="665"/><rect x="392" y="713"/><rect x="399" y="640"/><rect x="399" y="626"/><rect x="393" y="604"/><rect x="394" y="778"/><rect x="391" y="749"/><rect x="396" y="581"/><rect x="399" y="758"/><rect x="401" y="509"/><rect x="392" y="546"/><rect x="402" y="589"/><rect x="398" y="682"/><rect x="358" y="710"/><rect x="427" y="319"/><rect x="315" y="686"/><rect x="431" y="731"/><rect x="405" y="490"/><rect x="382" y="631"/><rect x="414" y="610"/><rect x="462" y="656"/><rect x="446" y="647"/><rect x="414" y="785"/><rect x="398" y="588"/><rect x="371" y="616"/><rect x="415" y="739"/><rect x="433" y="468"/><rect x="366" y="428"/><rect x="371" y="669"/><rect x="366" y="495"/><rect x="324" y="693"/><rect x="398" y="758"/><rect x="447" y="731"/><rect x="404" y="703"/><rect x="470" y="708"/><rect x="416" y="525"/><rect x="384" y="460"/><rect x="448" y="760"/><rect x="389" y="787"/><rect x="473" y="644"/><rect x="484" y="678"/><rect x="432" y="297"/><rect x="400" y="602"/><rect x="361" y="745"/><rect x="400" y="765"/><rect x="447" y="762"/><rect x="375" y="768"/><rect x="428" y="777"/><rect x="411" y="702"/><rect x="437" y="762"/><rect x="376" y="451"/><rect x="430" y="670"/><rect x="381" y="782"/><rect x="366" y="760"/><rect x="374" y="488"/><rect x="386" y="714"/><rect x="390" y="713"/><rect x="441" y="776"/><rect x="368" y="632"/><rect x="411" y="561"/><rect x="372" y="542"/><rect x="318" y="672"/><rect x="432" y="580"/><rect x="381" y="785"/><rect x="430" y="307"/><rect x="333" y="729"/><rect x="430" y="266"/><rect x="419" y="705"/><rect x="421" y="708"/><rect x="399" y="671"/><rect x="378" y="544"/><rect x="419" y="264"/><rect x="343" y="654"/><rect x="353" y="719"/><rect x="419" y="657"/><rect x="460" y="665"/><rect x="421" y="474"/><rect x="403" y="572"/><rect x="431" y="532"/><rect x="404" y="520"/><rect x="321" y="687"/><rect x="459" y="701"/><rect x="374" y="752"/><rect x="326" y="691"/><rect x="402" y="630"/><rect x="428" y="713"/><rect x="348" y="748"/><rect x="491" y="680"/><rect x="385" y="716"/><rect x="418" y="778"/><rect x="408" y="744"/><rect x="426" y="711"/><rect x="372" y="521"/><rect x="427" y="580"/><rect x="460" y="729"/><rect x="448" y="746"/><rect x="417" y="776"/><rect x="486" y="689"/><rect x="424" y="526"/><rect x="431" y="351"/><rect x="360" y="757"/><rect x="398" y="661"/><rect x="429" y="532"/><rect x="369" y="524"/><path d="M403.0 545.0V778.0" stroke="#858585" stroke-width="4.5" fill="none"/><rect x="335" y="704"/><rect x="421" y="549"/><rect x="368" y="461"/><rect x="368" y="343"/><rect x="405" y="608"/><rect x="379" y="604"/><rect x="489" y="690"/><rect x="460" y="661"/><rect x="421" y="339"/><rect x="392" y="787"/><rect x="425" y="695"/><rect x="370" y="362"/><rect x="385" y="468"/><rect x="422" y="608"/><rect x="411" y="465"/><rect x="367" y="423"/><rect x="372" y="723"/><rect x="432" y="479"/><rect x="394" y="616"/><rect x="416" y="554"/><rect x="408" y="506"/><rect x="369" y="574"/><rect x="415" y="260"/><rect x="376" y="707"/><rect x="353" y="759"/><rect x="417" y="714"/><rect x="383" y="530"/><rect x="418" y="595"/><rect x="430" y="740"/><rect x="421" y="687"/><rect x="393" y="780"/><rect x="368" y="395"/><rect x="379" y="450"/><rect x="426" y="343"/><rect x="362" y="740"/><rect x="477" y="684"/><rect x="399" y="731"/><rect x="418" y="528"/><rect x="376" y="740"/><rect x="390" y="787"/><rect x="383" y="625"/><rect x="372" y="683"/><rect x="383" y="439"/><rect x="355" y="765"/><rect x="372" y="672"/><rect x="437" y="723"/><rect x="433" y="627"/><rect x="431" y="284"/><rect x="404" y="664"/><rect x="363" y="729"/><rect x="349" y="708"/><rect x="424" y="779"/><rect x="416" y="751"/><rect x="421" y="721"/><rect x="425" y="771"/><rect x="480" y="682"/><rect x="476" y="695"/><rect x="372" y="532"/><rect x="386" y="576"/><rect x="411" y="594"/><rect x="421" y="771"/><rect x="441" y="665"/><rect x="374" y="602"/><rect x="377" y="399"/><rect x="410" y="715"/><rect x="397" y="559"/><rect x="382" y="727"/><rect x="417" y="487"/><rect x="436" y="682"/><rect x="414" y="650"/><rect x="358" y="720"/><rect x="402" y="672"/><rect x="403" y="734"/><rect x="343" y="728"/><rect x="378" y="742"/><rect x="376" y="644"/><rect x="372" y="575"/><rect x="420" y="746"/><rect x="462" y="682"/><rect x="399" y="781"/><rect x="434" y="415"/><rect x="423" y="360"/><rect x="415" y="548"/><rect x="422" y="448"/><rect x="422" y="580"/><rect x="426" y="744"/><rect x="420" y="456"/><rect x="304" y="690"/><rect x="437" y="695"/><rect x="392" y="526"/><rect x="420" y="742"/></g>
<path class="gl" d="M359.3 52.0V817.0M447.0 52.0V817.0M117.7 646.8H689.0"/>
<rect class="fr" x="117.7" y="52.0" width="571.3" height="765.0"/>
<path class="tk" d="M139.4 817.0V828.5M227.1 817.0V828.5M314.8 817.0V828.5M402.5 817.0V828.5M490.2 817.0V828.5M577.9 817.0V828.5M665.6 817.0V828.5M108.2 677.8H117.7M108.2 566.9H117.7M108.2 456.0H117.7M108.2 345.1H117.7M108.2 234.2H117.7M108.2 123.3H117.7"/>
<g class="k"><text transform="translate(139.8 868.8) scale(.88 1.05)"><tspan font-size="47" dy="2.8" stroke="none">-</tspan><tspan dx="2" dy="-2.8">6</tspan></text><text transform="translate(227.5 868.8) scale(.88 1.05)"><tspan font-size="47" dy="2.8" stroke="none">-</tspan><tspan dx="2" dy="-2.8">4</tspan></text><text transform="translate(315.2 868.8) scale(.88 1.05)"><tspan font-size="47" dy="2.8" stroke="none">-</tspan><tspan dx="2" dy="-2.8">2</tspan></text><text transform="translate(402.3 868.8) scale(.88 1.05)">0</text><text transform="translate(490.0 868.8) scale(.88 1.05)">2</text><text transform="translate(577.7 868.8) scale(.88 1.05)">4</text><text transform="translate(656.9 868.8) scale(.88 1.05)">6</text><text transform="translate(88.5 690.4) scale(.88 1.05)">1</text><text transform="translate(88.5 579.5) scale(.88 1.05)">2</text><text transform="translate(88.5 468.6) scale(.88 1.05)">3</text><text transform="translate(88.5 357.7) scale(.88 1.05)">4</text><text transform="translate(88.5 246.8) scale(.88 1.05)">5</text><text transform="translate(88.5 135.9) scale(.88 1.05)">6</text></g>
</g>
<g id="panel2">
<path class="grid" d="M760.0 60.0V807.5M847.3 60.0V807.5M934.6 60.0V807.5M1021.9 60.0V807.5M1109.2 60.0V807.5M1196.5 60.0V807.5M1283.8 60.0V807.5M743.5 683.8H1300.0M743.5 581.2H1300.0M743.5 478.8H1300.0M743.5 376.2H1300.0M743.5 273.8H1300.0M743.5 171.2H1300.0"/>
<g class="g"><rect x="1019" y="574"/><rect x="1034" y="761"/><rect x="1038" y="615"/><rect x="1028" y="471"/><rect x="1000" y="754"/><rect x="971" y="674"/><rect x="1011" y="776"/><rect x="1015" y="697"/><rect x="1053" y="668"/><rect x="982" y="706"/><rect x="977" y="743"/><rect x="1031" y="611"/><rect x="1049" y="532"/><rect x="989" y="259"/><rect x="1044" y="608"/><rect x="944" y="715"/><rect x="994" y="703"/><rect x="1049" y="498"/><rect x="1046" y="703"/><rect x="1012" y="603"/><rect x="1001" y="472"/><rect x="1027" y="467"/><rect x="998" y="412"/><rect x="1023" y="535"/><rect x="1006" y="514"/><rect x="1036" y="498"/><rect x="1017" y="770"/><rect x="913" y="692"/><rect x="1037" y="694"/><rect x="1027" y="496"/><rect x="949" y="682"/><rect x="1072" y="701"/><rect x="993" y="748"/><rect x="1093" y="723"/><rect x="1076" y="716"/><rect x="1003" y="700"/><rect x="1035" y="453"/><rect x="1033" y="741"/><rect x="994" y="522"/><rect x="990" y="623"/><rect x="990" y="319"/><rect x="1030" y="619"/><rect x="999" y="549"/><rect x="1037" y="481"/><rect x="1040" y="535"/><rect x="982" y="549"/><rect x="989" y="302"/><rect x="985" y="303"/><rect x="1019" y="636"/><rect x="1050" y="331"/><rect x="1015" y="583"/><rect x="1042" y="392"/><rect x="1031" y="714"/><rect x="1076" y="690"/><rect x="1003" y="495"/><rect x="964" y="751"/><rect x="1009" y="766"/><rect x="1025" y="542"/><rect x="1000" y="526"/><rect x="998" y="529"/><rect x="1049" y="444"/><rect x="997" y="429"/><rect x="1049" y="400"/><rect x="997" y="401"/><rect x="996" y="443"/><rect x="1020" y="778"/><rect x="1050" y="656"/><rect x="1003" y="605"/><rect x="940" y="694"/><rect x="989" y="572"/><rect x="983" y="496"/><rect x="948" y="745"/><rect x="1036" y="372"/><rect x="1081" y="648"/><rect x="1047" y="660"/><rect x="990" y="575"/><rect x="1016" y="546"/><rect x="984" y="334"/><rect x="1028" y="411"/><rect x="994" y="753"/><rect x="986" y="588"/><rect x="995" y="440"/><rect x="1035" y="370"/><rect x="1049" y="375"/><rect x="985" y="765"/><rect x="995" y="557"/><rect x="1034" y="451"/><rect x="1001" y="635"/><rect x="1051" y="512"/><rect x="983" y="602"/><rect x="1045" y="680"/><rect x="998" y="367"/><rect x="984" y="443"/><rect x="951" y="685"/><rect x="1069" y="662"/><rect x="1006" y="541"/><rect x="945" y="710"/><rect x="1035" y="550"/><rect x="970" y="750"/><rect x="1026" y="610"/><rect x="993" y="636"/><rect x="1007" y="680"/><rect x="1016" y="726"/><rect x="914" y="658"/><rect x="1020" y="769"/><rect x="1007" y="664"/><rect x="1005" y="635"/><rect x="1032" y="545"/><rect x="997" y="556"/><rect x="1030" y="604"/><rect x="1050" y="654"/><rect x="1042" y="337"/><rect x="1028" y="556"/><rect x="990" y="478"/><rect x="985" y="315"/><rect x="1022" y="720"/><rect x="1002" y="357"/><rect x="1050" y="479"/><rect x="1031" y="373"/><rect x="994" y="411"/><rect x="1056" y="699"/><rect x="961" y="751"/><rect x="1012" y="545"/><rect x="964" y="741"/><rect x="965" y="659"/><rect x="1033" y="582"/><rect x="990" y="432"/><rect x="944" y="734"/><rect x="1020" y="748"/><rect x="1050" y="583"/><rect x="1039" y="452"/><rect x="1049" y="608"/><rect x="1050" y="610"/><rect x="984" y="629"/><rect x="1005" y="582"/><rect x="997" y="568"/><rect x="1018" y="616"/><rect x="1042" y="674"/><rect x="1025" y="703"/><rect x="987" y="718"/><rect x="1015" y="569"/><rect x="1018" y="559"/><rect x="1041" y="536"/><rect x="953" y="667"/><rect x="973" y="215"/><rect x="940" y="688"/><rect x="1045" y="655"/><rect x="1007" y="770"/><rect x="933" y="671"/><rect x="1069" y="694"/><rect x="1034" y="765"/><rect x="989" y="545"/><rect x="1030" y="586"/><rect x="1025" y="707"/><rect x="1048" y="411"/><rect x="984" y="539"/><rect x="1023" y="769"/><rect x="1018" y="763"/><rect x="1015" y="710"/><rect x="1059" y="679"/><rect x="1037" y="749"/><rect x="988" y="409"/><rect x="940" y="708"/><rect x="971" y="737"/><rect x="1027" y="490"/><rect x="1034" y="530"/><rect x="917" y="704"/><rect x="1025" y="763"/><rect x="992" y="505"/><rect x="983" y="570"/><rect x="988" y="482"/><rect x="1044" y="454"/><rect x="1038" y="502"/><rect x="968" y="727"/><rect x="1035" y="601"/><rect x="1000" y="440"/><rect x="1048" y="568"/><rect x="997" y="532"/><rect x="1041" y="666"/><rect x="1028" y="674"/><rect x="962" y="713"/><rect x="1050" y="624"/><rect x="1006" y="761"/><rect x="1050" y="465"/><rect x="983" y="618"/><rect x="1012" y="728"/><rect x="1064" y="717"/><rect x="992" y="740"/><rect x="1065" y="709"/><rect x="1016" y="778"/><rect x="1050" y="598"/><rect x="1016" y="607"/><rect x="1034" y="354"/><rect x="1061" y="739"/><rect x="1041" y="724"/><rect x="982" y="472"/><rect x="997" y="750"/><rect x="1036" y="575"/><rect x="1012" y="697"/><rect x="1046" y="318"/><rect x="1032" y="294"/><rect x="1045" y="502"/><rect x="1066" y="678"/><rect x="1016" y="767"/><rect x="988" y="512"/><rect x="1027" y="698"/><rect x="1043" y="313"/><rect x="1001" y="769"/><rect x="998" y="600"/><rect x="984" y="535"/><rect x="1047" y="245"/><rect x="972" y="671"/><rect x="978" y="693"/><rect x="972" y="687"/><rect x="1047" y="630"/><rect x="985" y="382"/><rect x="1040" y="532"/><rect x="1041" y="692"/><rect x="1048" y="542"/><rect x="991" y="508"/><rect x="981" y="722"/><rect x="1047" y="562"/><rect x="965" y="672"/><rect x="1019" y="707"/><rect x="1010" y="697"/><rect x="1027" y="476"/><rect x="1004" y="688"/><rect x="980" y="274"/><rect x="990" y="332"/><rect x="997" y="464"/><rect x="1002" y="679"/><rect x="1047" y="496"/><rect x="1009" y="557"/><rect x="1025" y="751"/><rect x="1030" y="588"/><rect x="1018" y="777"/><rect x="1028" y="598"/><rect x="1021" y="761"/><rect x="1043" y="291"/><rect x="1026" y="762"/><rect x="1037" y="340"/><rect x="989" y="321"/><rect x="1038" y="443"/><rect x="998" y="705"/><rect x="1000" y="493"/><rect x="998" y="375"/><rect x="1010" y="763"/><rect x="1035" y="473"/><rect x="983" y="652"/><rect x="946" y="706"/><rect x="1032" y="330"/><rect x="963" y="665"/><rect x="1017" y="780"/><rect x="994" y="545"/><rect x="982" y="403"/><rect x="985" y="513"/><rect x="966" y="709"/><rect x="989" y="318"/><rect x="984" y="605"/><rect x="1032" y="524"/><rect x="987" y="388"/><rect x="970" y="757"/><rect x="1011" y="578"/><rect x="995" y="749"/><rect x="1018" y="703"/><rect x="1021" y="685"/><rect x="1043" y="752"/><rect x="1050" y="512"/><rect x="956" y="716"/><rect x="1033" y="765"/><rect x="1060" y="335"/><rect x="1028" y="526"/><rect x="954" y="718"/><rect x="1026" y="525"/><rect x="1017" y="737"/><rect x="977" y="697"/><rect x="1018" y="761"/><rect x="957" y="707"/><rect x="991" y="352"/><rect x="989" y="346"/><rect x="1074" y="663"/><rect x="993" y="728"/><rect x="994" y="571"/><rect x="1028" y="426"/><rect x="1055" y="742"/><rect x="989" y="567"/><rect x="1027" y="577"/><rect x="1050" y="425"/><rect x="1025" y="659"/><rect x="1043" y="663"/><rect x="986" y="582"/><rect x="1051" y="426"/><rect x="982" y="556"/><rect x="1013" y="762"/><rect x="1050" y="363"/><rect x="991" y="480"/><rect x="1041" y="631"/><rect x="992" y="324"/><rect x="1018" y="571"/><rect x="1085" y="680"/><rect x="992" y="746"/><rect x="1049" y="611"/><rect x="1056" y="694"/><rect x="1039" y="529"/><rect x="1030" y="305"/><rect x="1036" y="520"/><rect x="943" y="685"/><rect x="1047" y="562"/><rect x="1070" y="709"/><rect x="1031" y="753"/><rect x="963" y="705"/><rect x="959" y="705"/><rect x="942" y="661"/><rect x="990" y="700"/><rect x="986" y="550"/><rect x="1015" y="760"/><rect x="970" y="692"/><rect x="984" y="316"/><rect x="957" y="714"/><rect x="965" y="684"/><rect x="1048" y="322"/><rect x="1032" y="759"/><rect x="1015" y="587"/><rect x="948" y="742"/><rect x="1033" y="701"/><rect x="1050" y="734"/><rect x="1041" y="546"/><rect x="1029" y="361"/><rect x="1012" y="579"/><rect x="1074" y="718"/><rect x="1044" y="421"/><rect x="983" y="557"/><rect x="975" y="707"/><rect x="1040" y="478"/><rect x="1079" y="654"/><rect x="1043" y="536"/><rect x="1038" y="625"/><rect x="987" y="721"/><rect x="996" y="701"/><rect x="955" y="691"/><rect x="1017" y="587"/><rect x="995" y="768"/><rect x="987" y="511"/><rect x="1015" y="776"/><rect x="1014" y="702"/><rect x="983" y="525"/><rect x="1134" y="726"/><rect x="989" y="591"/><rect x="1049" y="348"/><rect x="992" y="332"/><rect x="994" y="763"/><rect x="1020" y="779"/><rect x="935" y="658"/><rect x="1004" y="344"/><rect x="1061" y="660"/><rect x="968" y="709"/><rect x="1024" y="771"/><rect x="993" y="395"/><rect x="984" y="332"/><rect x="982" y="614"/><rect x="942" y="660"/><rect x="997" y="673"/><rect x="1050" y="393"/><rect x="1018" y="520"/><rect x="1034" y="588"/><rect x="1025" y="442"/><rect x="982" y="582"/><rect x="1005" y="625"/><rect x="1023" y="755"/><rect x="1020" y="698"/><rect x="999" y="660"/><rect x="1036" y="279"/><rect x="1063" y="664"/><rect x="1039" y="682"/><rect x="1016" y="563"/><rect x="1051" y="746"/><rect x="984" y="480"/><rect x="985" y="525"/><rect x="1027" y="590"/><rect x="1036" y="422"/><rect x="956" y="743"/><rect x="1077" y="719"/><rect x="1019" y="528"/><rect x="985" y="329"/><rect x="1007" y="559"/><rect x="937" y="732"/><rect x="977" y="704"/><rect x="1025" y="499"/><rect x="993" y="383"/><rect x="1031" y="604"/><rect x="1034" y="357"/><rect x="950" y="678"/><rect x="965" y="699"/><rect x="998" y="727"/><rect x="1029" y="560"/><rect x="986" y="369"/><rect x="1035" y="448"/><rect x="1055" y="737"/><rect x="1007" y="767"/><rect x="991" y="320"/><rect x="1027" y="749"/><rect x="1044" y="263"/><rect x="988" y="358"/><rect x="1033" y="632"/><rect x="1014" y="685"/><rect x="1080" y="679"/><rect x="1048" y="706"/><rect x="1010" y="558"/><rect x="1041" y="414"/><rect x="1042" y="569"/><rect x="1001" y="539"/><rect x="1033" y="302"/><rect x="962" y="691"/><rect x="970" y="740"/><rect x="998" y="757"/><rect x="991" y="344"/><rect x="1047" y="588"/><rect x="1042" y="690"/><rect x="1000" y="491"/><rect x="1075" y="705"/><rect x="1031" y="334"/><rect x="982" y="749"/><rect x="1077" y="691"/><rect x="968" y="687"/><rect x="1044" y="715"/><rect x="995" y="569"/><rect x="1008" y="767"/><rect x="989" y="533"/><rect x="1026" y="635"/><rect x="1049" y="529"/><rect x="1014" y="672"/><rect x="1017" y="677"/><rect x="1068" y="739"/><rect x="1018" y="534"/><rect x="1030" y="434"/><rect x="1045" y="707"/><rect x="1036" y="764"/><rect x="1024" y="679"/><rect x="997" y="587"/><rect x="945" y="665"/><rect x="942" y="679"/><rect x="1010" y="635"/><rect x="982" y="479"/><rect x="1049" y="748"/><rect x="985" y="418"/><rect x="973" y="682"/><rect x="1075" y="726"/><rect x="961" y="733"/><rect x="1050" y="561"/><rect x="1005" y="598"/><rect x="1001" y="764"/><rect x="994" y="578"/><rect x="1044" y="745"/><rect x="1018" y="779"/><rect x="933" y="661"/><rect x="1019" y="616"/><rect x="1018" y="763"/><rect x="1030" y="750"/><rect x="1016" y="637"/><rect x="982" y="560"/><rect x="981" y="727"/><rect x="948" y="742"/><rect x="1037" y="394"/><rect x="995" y="526"/><rect x="1049" y="457"/><rect x="986" y="308"/><rect x="1025" y="460"/><rect x="978" y="249"/><rect x="1002" y="756"/><rect x="963" y="682"/><rect x="932" y="666"/><rect x="1039" y="395"/><rect x="1012" y="584"/><rect x="977" y="714"/><rect x="1014" y="652"/><rect x="1057" y="659"/><rect x="1108" y="671"/><rect x="1106" y="732"/><rect x="1010" y="772"/><rect x="1039" y="396"/><rect x="1033" y="744"/><rect x="997" y="633"/><rect x="1014" y="657"/><rect x="988" y="306"/><rect x="1019" y="622"/><rect x="990" y="580"/><rect x="982" y="738"/><rect x="1077" y="654"/><rect x="983" y="375"/><rect x="1033" y="763"/><rect x="1041" y="343"/><rect x="1027" y="759"/><rect x="1006" y="511"/><rect x="988" y="599"/><rect x="997" y="602"/><rect x="1032" y="682"/><rect x="1042" y="689"/><rect x="1015" y="775"/><rect x="949" y="670"/><rect x="1031" y="742"/><rect x="989" y="377"/><rect x="1048" y="552"/><rect x="1001" y="622"/><rect x="990" y="598"/><rect x="938" y="718"/><rect x="1050" y="550"/><rect x="985" y="607"/><rect x="1009" y="677"/><rect x="977" y="683"/><rect x="1043" y="380"/><rect x="1058" y="671"/><rect x="1023" y="425"/><rect x="1026" y="501"/><rect x="960" y="699"/><rect x="1000" y="768"/><rect x="1006" y="745"/><rect x="963" y="699"/><rect x="1025" y="614"/><rect x="1006" y="614"/><rect x="982" y="681"/><rect x="982" y="510"/><rect x="1015" y="718"/><rect x="1024" y="778"/><rect x="990" y="750"/><rect x="1002" y="364"/><rect x="1036" y="206"/><rect x="952" y="688"/><rect x="947" y="743"/><rect x="1022" y="598"/><rect x="1053" y="668"/><rect x="1031" y="303"/><rect x="1019" y="765"/><rect x="1020" y="555"/><rect x="1018" y="504"/><rect x="995" y="754"/><rect x="1029" y="587"/><rect x="1048" y="686"/><rect x="1060" y="686"/><rect x="1003" y="620"/><rect x="1007" y="678"/><rect x="1034" y="599"/><rect x="994" y="747"/><rect x="1014" y="603"/><rect x="1007" y="690"/><rect x="1050" y="348"/><rect x="973" y="755"/></g>
<g class="r"><rect x="940" y="289"/><rect x="1116" y="249"/><rect x="1066" y="566"/><rect x="910" y="377"/><rect x="1095" y="519"/><rect x="1089" y="574"/><rect x="929" y="566"/><rect x="1086" y="614"/><rect x="942" y="518"/><rect x="929" y="566"/><rect x="1068" y="499"/><rect x="953" y="531"/><rect x="1136" y="513"/><rect x="1066" y="576"/><rect x="1067" y="444"/><rect x="934" y="548"/><rect x="1072" y="511"/><rect x="967" y="457"/><rect x="950" y="530"/><rect x="1071" y="512"/><rect x="943" y="264"/><rect x="941" y="629"/><rect x="965" y="515"/><rect x="948" y="221"/><rect x="1070" y="464"/><rect x="1067" y="613"/><rect x="955" y="498"/><rect x="962" y="507"/><rect x="955" y="556"/><rect x="1080" y="639"/><rect x="1071" y="599"/><rect x="967" y="446"/><rect x="959" y="426"/><rect x="1069" y="528"/><rect x="1112" y="634"/><rect x="1074" y="611"/><rect x="932" y="319"/><rect x="937" y="438"/><rect x="952" y="604"/><rect x="964" y="560"/><rect x="951" y="433"/><rect x="923" y="226"/><rect x="965" y="424"/><rect x="966" y="554"/><rect x="935" y="536"/><rect x="947" y="532"/><rect x="1071" y="440"/><rect x="943" y="605"/><rect x="1066" y="590"/><rect x="959" y="566"/><rect x="1068" y="465"/><rect x="1066" y="635"/><rect x="932" y="605"/><rect x="1088" y="622"/><rect x="1067" y="289"/><rect x="1079" y="504"/><rect x="932" y="628"/><rect x="1091" y="557"/><rect x="1092" y="538"/><rect x="956" y="454"/><rect x="1086" y="627"/><rect x="1103" y="559"/><rect x="1073" y="505"/><rect x="1080" y="433"/><rect x="1070" y="474"/><rect x="968" y="633"/><rect x="1254" y="337"/><rect x="967" y="576"/><rect x="1065" y="576"/><rect x="1070" y="444"/><rect x="947" y="600"/><rect x="964" y="518"/><rect x="966" y="493"/><rect x="963" y="522"/><rect x="966" y="399"/><rect x="934" y="576"/><rect x="967" y="453"/><rect x="1070" y="600"/><rect x="964" y="429"/><rect x="966" y="553"/><rect x="1089" y="578"/><rect x="939" y="488"/><rect x="963" y="304"/><rect x="1065" y="461"/><rect x="963" y="560"/><rect x="926" y="349"/><rect x="1081" y="495"/><rect x="950" y="329"/><rect x="1068" y="623"/><rect x="942" y="274"/><rect x="1066" y="525"/><rect x="940" y="538"/><rect x="1080" y="577"/><rect x="1079" y="640"/><rect x="941" y="465"/><rect x="1087" y="586"/><rect x="1078" y="639"/><rect x="1080" y="452"/><rect x="968" y="624"/><rect x="1074" y="457"/><rect x="1082" y="587"/><rect x="941" y="489"/><rect x="955" y="461"/><rect x="1105" y="554"/><rect x="954" y="402"/><rect x="968" y="611"/><rect x="941" y="554"/><rect x="952" y="590"/><rect x="1099" y="560"/><rect x="1067" y="483"/><rect x="936" y="495"/><rect x="1067" y="514"/><rect x="963" y="529"/><rect x="962" y="566"/><rect x="1089" y="584"/><rect x="955" y="572"/><rect x="963" y="430"/><rect x="944" y="485"/><rect x="1068" y="595"/><rect x="941" y="433"/><rect x="1066" y="636"/><rect x="967" y="613"/><rect x="1065" y="622"/><rect x="968" y="593"/><rect x="929" y="579"/><rect x="953" y="342"/><rect x="1078" y="490"/><rect x="1067" y="516"/><rect x="1173" y="388"/><rect x="1079" y="449"/><rect x="1086" y="413"/><rect x="928" y="304"/><rect x="1084" y="635"/><rect x="1258" y="254"/><rect x="954" y="456"/><rect x="948" y="547"/><rect x="964" y="444"/><rect x="945" y="517"/><rect x="1070" y="587"/><rect x="1074" y="642"/><rect x="1081" y="564"/><rect x="963" y="625"/><rect x="943" y="442"/><rect x="950" y="625"/><rect x="1067" y="475"/><rect x="969" y="504"/><rect x="967" y="607"/><rect x="964" y="605"/><rect x="1080" y="472"/><rect x="1066" y="478"/><rect x="940" y="352"/><rect x="969" y="448"/><rect x="965" y="473"/><rect x="1070" y="436"/><rect x="963" y="476"/><rect x="1067" y="538"/><rect x="958" y="397"/><rect x="1077" y="462"/><rect x="956" y="554"/><rect x="1078" y="459"/><rect x="950" y="438"/><rect x="948" y="359"/><rect x="1065" y="548"/><rect x="963" y="483"/><rect x="1070" y="478"/><rect x="952" y="543"/><rect x="1079" y="434"/><rect x="1069" y="479"/><rect x="931" y="576"/><rect x="966" y="544"/><rect x="1096" y="549"/><rect x="948" y="628"/><rect x="968" y="382"/><rect x="1103" y="450"/><rect x="945" y="504"/><rect x="1068" y="612"/><rect x="963" y="401"/><rect x="1083" y="597"/><rect x="932" y="588"/><rect x="1089" y="529"/><rect x="938" y="566"/><rect x="1075" y="448"/><rect x="958" y="425"/><rect x="965" y="594"/><rect x="960" y="448"/><rect x="1093" y="622"/><rect x="1145" y="585"/><rect x="1230" y="290"/><rect x="958" y="387"/><rect x="963" y="545"/><rect x="964" y="641"/><rect x="961" y="477"/><rect x="935" y="493"/><rect x="1090" y="568"/><rect x="1083" y="612"/><rect x="952" y="72"/><rect x="1064" y="279"/><rect x="1067" y="531"/><rect x="948" y="573"/><rect x="1173" y="372"/><rect x="956" y="395"/><rect x="1067" y="435"/><rect x="962" y="519"/><rect x="948" y="359"/><rect x="955" y="576"/><rect x="959" y="623"/><rect x="965" y="364"/><rect x="967" y="553"/><rect x="950" y="620"/><rect x="1085" y="588"/><rect x="968" y="509"/><rect x="1230" y="342"/><rect x="936" y="423"/><rect x="970" y="344"/><rect x="956" y="407"/><rect x="968" y="491"/><rect x="1076" y="510"/><rect x="1066" y="474"/><rect x="926" y="269"/><rect x="1161" y="332"/><rect x="972" y="242"/><rect x="956" y="407"/><rect x="1065" y="594"/><rect x="1091" y="583"/><rect x="945" y="372"/><rect x="953" y="493"/><rect x="962" y="537"/><rect x="945" y="506"/><rect x="943" y="633"/><rect x="1082" y="615"/><rect x="1069" y="577"/><rect x="1065" y="467"/><rect x="963" y="634"/><rect x="933" y="530"/><rect x="933" y="536"/><rect x="1067" y="533"/><rect x="1070" y="595"/><rect x="934" y="438"/><rect x="956" y="628"/><rect x="968" y="327"/><rect x="966" y="428"/><rect x="1206" y="354"/><rect x="1072" y="457"/><rect x="964" y="405"/><rect x="1132" y="372"/><rect x="893" y="369"/><rect x="1076" y="445"/><rect x="1066" y="529"/><rect x="963" y="548"/><rect x="1072" y="435"/><rect x="963" y="507"/><rect x="1094" y="413"/><rect x="938" y="571"/><rect x="1084" y="503"/><rect x="1084" y="526"/><rect x="1079" y="465"/><rect x="964" y="502"/><rect x="962" y="560"/><rect x="936" y="422"/><rect x="1070" y="642"/><rect x="967" y="505"/><rect x="1065" y="445"/><rect x="968" y="407"/><rect x="936" y="570"/><rect x="939" y="431"/><rect x="970" y="277"/><rect x="1068" y="604"/><rect x="1066" y="497"/><rect x="1069" y="554"/><rect x="945" y="312"/><rect x="954" y="612"/><rect x="1268" y="324"/><rect x="1066" y="553"/><rect x="937" y="497"/><rect x="953" y="637"/><rect x="1091" y="561"/><rect x="1103" y="549"/><rect x="1109" y="337"/><rect x="1096" y="533"/><rect x="951" y="623"/><rect x="962" y="532"/><rect x="933" y="400"/><rect x="1081" y="579"/><rect x="1087" y="586"/><rect x="924" y="440"/><rect x="1086" y="357"/><rect x="882" y="395"/><rect x="1233" y="348"/><rect x="968" y="473"/><rect x="949" y="544"/><rect x="968" y="420"/><rect x="946" y="615"/><rect x="955" y="525"/><rect x="1069" y="439"/><rect x="1066" y="600"/><rect x="949" y="482"/><rect x="1072" y="505"/><rect x="965" y="407"/><rect x="934" y="465"/><rect x="963" y="468"/><rect x="1079" y="444"/><rect x="1084" y="491"/><rect x="961" y="554"/><rect x="949" y="508"/><rect x="948" y="404"/><rect x="966" y="525"/><rect x="965" y="628"/><rect x="1077" y="631"/><rect x="1066" y="569"/><rect x="960" y="525"/><rect x="958" y="626"/><rect x="1073" y="640"/><rect x="963" y="592"/><rect x="967" y="417"/><rect x="958" y="454"/><rect x="1090" y="501"/><rect x="965" y="489"/><rect x="941" y="576"/><rect x="1076" y="454"/><rect x="938" y="641"/><rect x="908" y="422"/><rect x="1065" y="456"/><rect x="966" y="599"/><rect x="953" y="580"/><rect x="957" y="473"/><rect x="1069" y="465"/><rect x="1074" y="637"/><rect x="935" y="462"/><rect x="967" y="414"/><rect x="958" y="506"/><rect x="968" y="569"/><rect x="1069" y="586"/><rect x="1228" y="328"/><rect x="1063" y="404"/><rect x="963" y="562"/><rect x="967" y="469"/><rect x="954" y="409"/><rect x="1071" y="594"/><rect x="962" y="453"/><rect x="948" y="601"/><rect x="921" y="384"/><rect x="1138" y="540"/><rect x="934" y="560"/><rect x="966" y="475"/><rect x="1123" y="402"/><rect x="884" y="476"/><rect x="968" y="292"/><rect x="966" y="486"/><rect x="1077" y="476"/><rect x="1067" y="627"/><rect x="1075" y="615"/><rect x="910" y="303"/><rect x="1067" y="589"/><rect x="1094" y="299"/><rect x="1081" y="556"/><rect x="963" y="555"/><rect x="1071" y="501"/><rect x="1079" y="380"/><rect x="968" y="564"/><rect x="933" y="476"/><rect x="968" y="400"/><rect x="966" y="450"/><rect x="1071" y="574"/><rect x="961" y="478"/><rect x="969" y="523"/><rect x="945" y="614"/><rect x="967" y="458"/><rect x="926" y="206"/><rect x="934" y="462"/><rect x="902" y="458"/><rect x="956" y="624"/><rect x="964" y="571"/><rect x="963" y="324"/><rect x="1070" y="445"/><rect x="1066" y="485"/><rect x="1082" y="486"/><rect x="1067" y="628"/><rect x="958" y="519"/><rect x="959" y="414"/><rect x="1073" y="551"/><rect x="952" y="514"/><rect x="1100" y="425"/><rect x="943" y="532"/><rect x="1066" y="352"/><rect x="1066" y="622"/><rect x="965" y="611"/><rect x="1138" y="452"/><rect x="1075" y="435"/><rect x="967" y="605"/><rect x="1108" y="389"/><rect x="937" y="626"/><rect x="1082" y="579"/><rect x="947" y="432"/><rect x="963" y="494"/></g>
<g class="g"><rect x="991" y="605"/><rect x="987" y="303"/><rect x="1082" y="680"/><rect x="978" y="675"/><rect x="997" y="772"/><rect x="977" y="679"/><rect x="1017" y="718"/><rect x="984" y="610"/><rect x="1076" y="675"/><rect x="992" y="758"/><rect x="1057" y="747"/><rect x="1010" y="525"/><rect x="1018" y="603"/><rect x="1006" y="772"/><rect x="1043" y="326"/><rect x="995" y="666"/><rect x="1015" y="517"/><rect x="976" y="743"/><rect x="1032" y="564"/><rect x="987" y="757"/><rect x="994" y="571"/><rect x="1014" y="553"/><rect x="1043" y="750"/><rect x="1001" y="487"/><rect x="1014" y="773"/><rect x="1067" y="649"/><rect x="956" y="707"/><rect x="1071" y="711"/><rect x="1065" y="666"/><rect x="1004" y="562"/><rect x="998" y="537"/><rect x="1001" y="595"/><rect x="1022" y="758"/><rect x="1015" y="604"/><rect x="1050" y="488"/><rect x="991" y="653"/><rect x="1066" y="696"/><rect x="988" y="754"/><rect x="1038" y="528"/><rect x="1034" y="700"/><rect x="1023" y="539"/><rect x="1029" y="387"/><rect x="1003" y="560"/><rect x="999" y="697"/><rect x="1044" y="650"/><rect x="1046" y="327"/><rect x="1019" y="597"/><rect x="1025" y="466"/><rect x="1052" y="681"/><rect x="981" y="762"/><rect x="1046" y="608"/><rect x="1039" y="368"/><rect x="1068" y="729"/><rect x="991" y="511"/><rect x="943" y="670"/><rect x="982" y="455"/><rect x="1025" y="775"/><rect x="946" y="710"/><rect x="1061" y="724"/><rect x="1003" y="773"/><rect x="1028" y="437"/><rect x="1032" y="567"/><rect x="1022" y="736"/><rect x="1031" y="316"/><rect x="1047" y="585"/><rect x="981" y="416"/><rect x="984" y="750"/><rect x="1035" y="586"/><rect x="1003" y="762"/><rect x="1049" y="386"/><rect x="967" y="667"/><rect x="1037" y="627"/><rect x="1026" y="760"/><rect x="942" y="707"/><rect x="990" y="324"/><rect x="1005" y="535"/><rect x="1016" y="639"/><rect x="1009" y="585"/><rect x="1015" y="647"/><rect x="1012" y="530"/><rect x="1009" y="780"/><rect x="1018" y="757"/><rect x="1018" y="685"/><rect x="1009" y="529"/><rect x="1016" y="725"/><rect x="1009" y="614"/><rect x="1010" y="702"/><rect x="1013" y="682"/><rect x="1014" y="623"/><rect x="1016" y="586"/><rect x="1013" y="565"/><rect x="1011" y="767"/><rect x="1017" y="729"/><rect x="1012" y="785"/><rect x="1012" y="741"/><rect x="1012" y="685"/><rect x="1018" y="520"/><rect x="1017" y="681"/><rect x="1015" y="672"/><rect x="1015" y="542"/><rect x="1015" y="556"/><rect x="1015" y="748"/><rect x="1013" y="575"/><rect x="1018" y="765"/><rect x="1010" y="665"/><rect x="1009" y="551"/><rect x="1019" y="605"/><rect x="1016" y="582"/><rect x="1010" y="759"/><rect x="1009" y="716"/><rect x="1016" y="659"/><rect x="1013" y="645"/><rect x="1020" y="670"/><rect x="1012" y="612"/><rect x="1016" y="610"/><rect x="1014" y="768"/><rect x="1017" y="778"/><rect x="1015" y="537"/><rect x="1016" y="624"/><rect x="1019" y="500"/><rect x="1009" y="691"/><rect x="1014" y="778"/><rect x="1018" y="557"/><rect x="1017" y="516"/><rect x="1009" y="524"/><rect x="1018" y="669"/><rect x="1015" y="679"/><rect x="1016" y="606"/><rect x="1014" y="504"/><rect x="1016" y="569"/><rect x="1019" y="538"/><rect x="1014" y="644"/><rect x="1013" y="548"/><rect x="1014" y="508"/><rect x="1016" y="736"/><rect x="1017" y="713"/><rect x="1016" y="713"/><rect x="1014" y="748"/><rect x="1019" y="696"/><rect x="1017" y="502"/><rect x="1015" y="652"/><rect x="1013" y="617"/><rect x="1013" y="497"/><rect x="1020" y="568"/><rect x="1009" y="706"/><rect x="1012" y="539"/><rect x="1020" y="716"/><rect x="1017" y="590"/><rect x="1012" y="769"/><rect x="1017" y="603"/><rect x="1019" y="531"/><rect x="1020" y="627"/><rect x="1017" y="593"/><rect x="1014" y="692"/><rect x="1012" y="563"/><rect x="1009" y="633"/><rect x="1010" y="595"/><rect x="1009" y="742"/><rect x="1015" y="699"/><rect x="1019" y="493"/><rect x="1019" y="618"/><rect x="1009" y="755"/><rect x="1010" y="749"/><rect x="1016" y="515"/><rect x="1013" y="570"/><rect x="1013" y="721"/><rect x="1012" y="631"/><rect x="1031" y="325"/><rect x="982" y="429"/><rect x="1022" y="777"/><rect x="1050" y="504"/><rect x="1032" y="355"/><rect x="1057" y="740"/><rect x="1030" y="343"/><rect x="984" y="615"/><rect x="996" y="551"/><rect x="999" y="730"/><rect x="1018" y="604"/><rect x="997" y="762"/><rect x="1028" y="769"/><rect x="987" y="303"/><rect x="1005" y="775"/><rect x="1016" y="577"/><rect x="1021" y="612"/><rect x="983" y="500"/><rect x="1005" y="515"/><rect x="1005" y="698"/><rect x="1047" y="369"/><rect x="1018" y="610"/><rect x="1064" y="668"/><rect x="1047" y="715"/><rect x="1049" y="526"/><rect x="1028" y="399"/><rect x="1004" y="346"/><rect x="1049" y="440"/><rect x="932" y="648"/><rect x="1056" y="715"/><rect x="993" y="706"/><rect x="1032" y="488"/><rect x="1024" y="527"/><rect x="955" y="722"/><rect x="1019" y="607"/><rect x="1034" y="637"/><rect x="1011" y="770"/><rect x="971" y="693"/><rect x="1034" y="755"/><rect x="1015" y="706"/><rect x="1046" y="748"/><rect x="1018" y="774"/><rect x="999" y="359"/><rect x="1008" y="774"/><rect x="1000" y="754"/><rect x="1001" y="495"/><rect x="1049" y="579"/><rect x="1033" y="438"/><rect x="1059" y="703"/><rect x="1036" y="713"/><rect x="940" y="700"/><rect x="998" y="389"/><rect x="932" y="666"/><rect x="940" y="737"/><rect x="1030" y="512"/><rect x="1066" y="664"/><rect x="1004" y="526"/><rect x="1001" y="455"/><rect x="1038" y="296"/><rect x="1049" y="504"/><rect x="1004" y="358"/><rect x="1046" y="302"/><rect x="1036" y="304"/><rect x="1045" y="549"/><rect x="991" y="599"/><rect x="1038" y="476"/><rect x="958" y="732"/><rect x="1017" y="532"/><rect x="1047" y="585"/><rect x="988" y="338"/><rect x="1044" y="563"/><rect x="957" y="678"/><rect x="982" y="372"/><rect x="1032" y="379"/><rect x="998" y="402"/><rect x="997" y="566"/><rect x="1005" y="757"/><path d="M1021.5 525.0V773.0" stroke="#858585" stroke-width="4.5" fill="none"/><rect x="984" y="488"/><rect x="1063" y="665"/><rect x="1037" y="364"/><rect x="990" y="375"/><rect x="950" y="650"/><rect x="1047" y="345"/><rect x="974" y="675"/><rect x="984" y="470"/><rect x="977" y="756"/><rect x="965" y="738"/><rect x="1057" y="690"/><rect x="958" y="687"/><rect x="985" y="595"/><rect x="957" y="723"/><rect x="1027" y="663"/><rect x="1045" y="341"/><rect x="1000" y="534"/><rect x="1034" y="448"/><rect x="1051" y="689"/><rect x="1022" y="657"/><rect x="1036" y="696"/><rect x="1040" y="634"/><rect x="987" y="558"/><rect x="1025" y="733"/><rect x="993" y="768"/><rect x="1030" y="364"/><rect x="1044" y="440"/><rect x="975" y="714"/><rect x="1039" y="504"/><rect x="973" y="693"/><rect x="1078" y="653"/><rect x="971" y="692"/><rect x="1057" y="685"/><rect x="987" y="680"/><rect x="1079" y="661"/><rect x="1050" y="747"/><rect x="947" y="738"/><rect x="1048" y="598"/><rect x="1032" y="555"/><rect x="996" y="460"/><rect x="1013" y="538"/><rect x="982" y="511"/><rect x="1072" y="728"/><rect x="1011" y="734"/><rect x="1056" y="724"/><rect x="1043" y="502"/><rect x="1015" y="752"/><rect x="982" y="388"/><rect x="997" y="764"/><rect x="984" y="303"/><rect x="1005" y="775"/><rect x="1030" y="717"/><rect x="994" y="438"/><rect x="1026" y="769"/><rect x="1026" y="580"/><rect x="988" y="602"/><rect x="979" y="697"/><rect x="1033" y="573"/><rect x="994" y="626"/><rect x="938" y="679"/><rect x="1021" y="761"/><rect x="971" y="740"/><rect x="1044" y="626"/><rect x="1038" y="677"/><rect x="992" y="591"/><rect x="1030" y="636"/><rect x="1023" y="780"/><rect x="1019" y="543"/><rect x="988" y="447"/><rect x="1029" y="329"/><rect x="1018" y="598"/><rect x="1007" y="622"/><rect x="1031" y="507"/><rect x="1027" y="556"/><rect x="1043" y="704"/><rect x="1030" y="576"/><rect x="1016" y="711"/></g>
<path class="gl" d="M977.7 52.0V811.5M1065.6 52.0V811.5M737.5 652.8H1305.0"/>
<rect class="fr" x="737.5" y="52.0" width="567.5" height="759.5"/>
<path class="tk" d="M759.2 811.5V823.0M846.5 811.5V823.0M933.8 811.5V823.0M1021.1 811.5V823.0M1108.4 811.5V823.0M1195.7 811.5V823.0M1283.0 811.5V823.0M728.0 682.5H737.5M728.0 580.0H737.5M728.0 477.4H737.5M728.0 374.9H737.5M728.0 272.4H737.5M728.0 169.9H737.5"/>
<g class="k"><text transform="translate(759.6 863.8) scale(.88 1.05)"><tspan font-size="47" dy="2.8" stroke="none">-</tspan><tspan dx="2" dy="-2.8">6</tspan></text><text transform="translate(846.9 863.8) scale(.88 1.05)"><tspan font-size="47" dy="2.8" stroke="none">-</tspan><tspan dx="2" dy="-2.8">4</tspan></text><text transform="translate(934.2 863.8) scale(.88 1.05)"><tspan font-size="47" dy="2.8" stroke="none">-</tspan><tspan dx="2" dy="-2.8">2</tspan></text><text transform="translate(1020.9 863.8) scale(.88 1.05)">0</text><text transform="translate(1108.2 863.8) scale(.88 1.05)">2</text><text transform="translate(1195.5 863.8) scale(.88 1.05)">4</text><text transform="translate(1272.8 863.8) scale(.88 1.05)">6</text><text transform="translate(709.3 695.0) scale(.88 1.05)">1</text><text transform="translate(709.3 592.5) scale(.88 1.05)">2</text><text transform="translate(709.3 490.1) scale(.88 1.05)">3</text><text transform="translate(709.3 387.6) scale(.88 1.05)">4</text><text transform="translate(709.3 285.1) scale(.88 1.05)">5</text><text transform="translate(709.3 182.6) scale(.88 1.05)">6</text></g>
</g>
<g id="panel3">
<path class="grid" d="M1443.6 58.3V813.5M1549.6 58.3V813.5M1655.6 58.3V813.5M1761.6 58.3V813.5M1867.6 58.3V813.5M1375.5 684.2H1936.0M1375.5 576.8H1936.0M1375.5 469.2H1936.0M1375.5 361.8H1936.0M1375.5 254.2H1936.0M1375.5 146.8H1936.0"/>
<g class="g"><rect x="1564" y="651"/><rect x="1699" y="762"/><rect x="1660" y="773"/><rect x="1683" y="753"/><rect x="1673" y="340"/><rect x="1614" y="695"/><rect x="1654" y="685"/><rect x="1663" y="775"/><rect x="1665" y="577"/><rect x="1617" y="564"/><rect x="1632" y="768"/><rect x="1631" y="569"/><rect x="1606" y="231"/><rect x="1611" y="763"/><rect x="1678" y="226"/><rect x="1661" y="560"/><rect x="1696" y="314"/><rect x="1615" y="726"/><rect x="1692" y="405"/><rect x="1603" y="188"/><rect x="1626" y="576"/><rect x="1645" y="770"/><rect x="1738" y="657"/><rect x="1685" y="685"/><rect x="1620" y="408"/><rect x="1630" y="578"/><rect x="1524" y="658"/><rect x="1730" y="713"/><rect x="1616" y="627"/><rect x="1693" y="556"/><rect x="1614" y="573"/><rect x="1688" y="544"/><rect x="1646" y="758"/><rect x="1640" y="711"/><rect x="1582" y="662"/><rect x="1607" y="483"/><rect x="1540" y="666"/><rect x="1581" y="737"/><rect x="1609" y="739"/><rect x="1627" y="561"/><rect x="1548" y="686"/><rect x="1592" y="755"/><rect x="1784" y="688"/><rect x="1648" y="612"/><rect x="1758" y="729"/><rect x="1688" y="762"/><rect x="1660" y="573"/><rect x="1675" y="484"/><rect x="1670" y="751"/><rect x="1695" y="765"/><rect x="1712" y="746"/><rect x="1628" y="676"/><rect x="1563" y="685"/><rect x="1656" y="714"/><rect x="1502" y="695"/><rect x="1636" y="525"/><rect x="1617" y="404"/><rect x="1734" y="656"/><rect x="1604" y="222"/><rect x="1654" y="693"/><rect x="1702" y="735"/><rect x="1608" y="433"/><rect x="1611" y="757"/><rect x="1692" y="482"/><rect x="1674" y="307"/><rect x="1672" y="341"/><rect x="1640" y="785"/><rect x="1694" y="352"/><rect x="1662" y="727"/><rect x="1590" y="659"/><rect x="1684" y="769"/><rect x="1598" y="712"/><rect x="1622" y="330"/><rect x="1752" y="728"/><rect x="1605" y="708"/><rect x="1759" y="714"/><rect x="1693" y="555"/><rect x="1581" y="708"/><rect x="1719" y="751"/><rect x="1681" y="703"/><rect x="1694" y="262"/><rect x="1680" y="346"/><rect x="1677" y="576"/><rect x="1617" y="568"/><rect x="1606" y="178"/><rect x="1613" y="483"/><rect x="1547" y="660"/><rect x="1612" y="520"/><rect x="1733" y="708"/><rect x="1547" y="678"/><rect x="1746" y="717"/><rect x="1664" y="757"/><rect x="1607" y="494"/><rect x="1613" y="255"/><rect x="1683" y="338"/><rect x="1682" y="289"/><rect x="1709" y="758"/><rect x="1682" y="595"/><rect x="1582" y="709"/><rect x="1639" y="651"/><rect x="1641" y="737"/><rect x="1555" y="661"/><rect x="1606" y="735"/><rect x="1599" y="103"/><rect x="1615" y="579"/><rect x="1622" y="558"/><rect x="1689" y="735"/><rect x="1643" y="780"/><rect x="1608" y="320"/><rect x="1661" y="596"/><rect x="1608" y="540"/><rect x="1548" y="665"/><rect x="1604" y="754"/><rect x="1670" y="648"/><rect x="1742" y="677"/><rect x="1629" y="684"/><rect x="1682" y="724"/><rect x="1660" y="585"/><rect x="1618" y="403"/><rect x="1680" y="237"/><rect x="1620" y="429"/><rect x="1608" y="303"/><rect x="1629" y="661"/><rect x="1663" y="741"/><rect x="1634" y="481"/><rect x="1716" y="704"/><rect x="1650" y="776"/><rect x="1650" y="747"/><rect x="1670" y="262"/><rect x="1834" y="655"/><rect x="1677" y="535"/><rect x="1668" y="473"/><rect x="1763" y="689"/><rect x="1620" y="714"/><rect x="1679" y="573"/><rect x="1606" y="610"/><rect x="1695" y="365"/><rect x="1696" y="558"/><rect x="1748" y="731"/><rect x="1572" y="684"/><rect x="1644" y="561"/><rect x="1606" y="562"/><rect x="1660" y="763"/><rect x="1813" y="662"/><rect x="1611" y="563"/><rect x="1615" y="734"/><rect x="1695" y="405"/><rect x="1737" y="674"/><rect x="1692" y="329"/><rect x="1613" y="739"/><rect x="1718" y="741"/><rect x="1615" y="739"/><rect x="1691" y="400"/><rect x="1626" y="595"/><rect x="1649" y="700"/><rect x="1547" y="713"/><rect x="1582" y="751"/><rect x="1639" y="563"/><rect x="1685" y="698"/><rect x="1768" y="650"/><rect x="1629" y="773"/><rect x="1682" y="545"/><rect x="1674" y="302"/><rect x="1605" y="232"/><rect x="1602" y="758"/><rect x="1653" y="603"/><rect x="1614" y="584"/><rect x="1693" y="751"/><rect x="1614" y="400"/><rect x="1629" y="448"/><rect x="1639" y="747"/><rect x="1746" y="721"/><rect x="1688" y="689"/><rect x="1666" y="466"/><rect x="1673" y="458"/><rect x="1643" y="583"/><rect x="1695" y="285"/><rect x="1673" y="257"/><rect x="1696" y="468"/><rect x="1766" y="676"/><rect x="1607" y="572"/><rect x="1638" y="715"/><rect x="1642" y="599"/><rect x="1624" y="340"/><rect x="1727" y="711"/><rect x="1670" y="609"/><rect x="1605" y="183"/><rect x="1694" y="506"/><rect x="1584" y="684"/><rect x="1619" y="675"/><rect x="1682" y="731"/><rect x="1746" y="677"/><rect x="1641" y="598"/><rect x="1606" y="232"/><rect x="1528" y="690"/><rect x="1672" y="755"/><rect x="1734" y="703"/><rect x="1657" y="772"/><rect x="1608" y="303"/><rect x="1691" y="460"/><rect x="1636" y="767"/><rect x="1634" y="498"/><rect x="1537" y="671"/><rect x="1689" y="392"/><rect x="1681" y="301"/><rect x="1678" y="247"/><rect x="1607" y="219"/><rect x="1615" y="382"/><rect x="1640" y="749"/><rect x="1763" y="699"/><rect x="1657" y="629"/><rect x="1696" y="539"/><rect x="1607" y="262"/><rect x="1599" y="725"/><rect x="1635" y="585"/><rect x="1673" y="479"/><rect x="1627" y="617"/><rect x="1669" y="455"/><rect x="1624" y="553"/><rect x="1673" y="569"/><rect x="1696" y="424"/><rect x="1646" y="783"/><rect x="1585" y="751"/><rect x="1672" y="755"/><rect x="1612" y="331"/><rect x="1607" y="688"/><rect x="1671" y="351"/><rect x="1674" y="513"/><rect x="1668" y="493"/><rect x="1653" y="780"/><rect x="1720" y="736"/><rect x="1748" y="663"/><rect x="1690" y="494"/><rect x="1619" y="511"/><rect x="1670" y="337"/><rect x="1633" y="612"/><rect x="1609" y="770"/><rect x="1629" y="750"/><rect x="1621" y="175"/><rect x="1616" y="398"/><rect x="1607" y="341"/><rect x="1633" y="614"/><rect x="1626" y="395"/><rect x="1679" y="634"/><rect x="1668" y="621"/><rect x="1608" y="431"/><rect x="1691" y="325"/><rect x="1557" y="731"/><rect x="1607" y="217"/><rect x="1657" y="671"/><rect x="1609" y="669"/><rect x="1682" y="691"/><rect x="1661" y="563"/><rect x="1607" y="206"/><rect x="1597" y="753"/><rect x="1634" y="658"/><rect x="1617" y="747"/><rect x="1693" y="600"/><rect x="1740" y="725"/><rect x="1705" y="676"/><rect x="1642" y="683"/><rect x="1668" y="424"/><rect x="1555" y="675"/><rect x="1543" y="686"/><rect x="1632" y="621"/><rect x="1682" y="268"/><rect x="1659" y="684"/><rect x="1756" y="736"/><rect x="1658" y="743"/><rect x="1547" y="710"/><rect x="1688" y="474"/><rect x="1669" y="195"/><rect x="1724" y="751"/><rect x="1676" y="234"/><rect x="1692" y="542"/><rect x="1675" y="552"/><rect x="1628" y="679"/><rect x="1666" y="769"/><rect x="1624" y="367"/><rect x="1654" y="782"/><rect x="1667" y="503"/><rect x="1600" y="656"/><rect x="1617" y="687"/><rect x="1666" y="566"/><rect x="1665" y="781"/><rect x="1600" y="724"/><rect x="1585" y="694"/><rect x="1568" y="712"/><rect x="1685" y="594"/><rect x="1610" y="242"/><rect x="1665" y="768"/><rect x="1613" y="351"/><rect x="1683" y="758"/><rect x="1572" y="745"/><rect x="1635" y="551"/><rect x="1683" y="626"/><rect x="1623" y="695"/><rect x="1644" y="783"/><rect x="1717" y="662"/><rect x="1696" y="658"/><rect x="1677" y="495"/><rect x="1630" y="560"/><rect x="1619" y="255"/><rect x="1648" y="655"/><rect x="1607" y="282"/><rect x="1636" y="785"/><rect x="1644" y="567"/><rect x="1601" y="748"/><rect x="1624" y="382"/><rect x="1523" y="650"/><rect x="1699" y="663"/><rect x="1634" y="720"/><rect x="1606" y="263"/><rect x="1617" y="690"/><rect x="1638" y="709"/><rect x="1574" y="663"/><rect x="1679" y="361"/><rect x="1638" y="698"/><rect x="1694" y="254"/><rect x="1649" y="777"/><rect x="1602" y="721"/><rect x="1694" y="757"/><rect x="1611" y="412"/><rect x="1590" y="744"/><rect x="1683" y="621"/><rect x="1617" y="771"/><rect x="1613" y="260"/><rect x="1662" y="740"/><rect x="1519" y="670"/><rect x="1659" y="555"/><rect x="1666" y="589"/><rect x="1628" y="558"/><rect x="1649" y="787"/><rect x="1640" y="764"/><rect x="1657" y="542"/><rect x="1699" y="670"/><rect x="1608" y="291"/><rect x="1612" y="744"/><rect x="1690" y="275"/><rect x="1676" y="487"/><rect x="1697" y="493"/><rect x="1708" y="730"/><rect x="1521" y="685"/><rect x="1709" y="715"/><rect x="1588" y="702"/><rect x="1638" y="560"/><rect x="1606" y="199"/><rect x="1666" y="762"/><rect x="1698" y="760"/><rect x="1615" y="765"/><rect x="1685" y="681"/><rect x="1680" y="761"/><rect x="1588" y="686"/><rect x="1628" y="768"/><rect x="1645" y="562"/><rect x="1727" y="740"/><rect x="1628" y="472"/><rect x="1606" y="544"/><rect x="1679" y="240"/><rect x="1619" y="342"/><rect x="1681" y="770"/><rect x="1623" y="634"/><rect x="1615" y="408"/><rect x="1678" y="216"/><rect x="1582" y="747"/><rect x="1680" y="376"/><rect x="1706" y="730"/><rect x="1625" y="730"/><rect x="1651" y="780"/><rect x="1654" y="707"/><rect x="1606" y="386"/><rect x="1689" y="770"/><rect x="1689" y="528"/><rect x="1714" y="699"/><rect x="1608" y="524"/><rect x="1631" y="760"/><rect x="1667" y="628"/><rect x="1688" y="631"/><rect x="1610" y="744"/><rect x="1680" y="220"/><rect x="1669" y="437"/><rect x="1624" y="350"/><rect x="1608" y="331"/><rect x="1605" y="758"/><rect x="1628" y="433"/><rect x="1592" y="716"/><rect x="1701" y="757"/><rect x="1652" y="785"/><rect x="1642" y="680"/><rect x="1669" y="368"/><rect x="1715" y="709"/><rect x="1756" y="735"/><rect x="1696" y="380"/><rect x="1742" y="695"/><rect x="1650" y="580"/><rect x="1609" y="689"/><rect x="1686" y="514"/><rect x="1601" y="742"/><rect x="1606" y="556"/><rect x="1610" y="761"/><rect x="1675" y="768"/><rect x="1695" y="736"/><rect x="1697" y="584"/><rect x="1617" y="287"/><rect x="1685" y="717"/><rect x="1694" y="542"/><rect x="1729" y="691"/><rect x="1623" y="527"/><rect x="1677" y="744"/><rect x="1760" y="705"/><rect x="1622" y="533"/><rect x="1657" y="781"/><rect x="1687" y="262"/><rect x="1636" y="781"/><rect x="1688" y="669"/><rect x="1761" y="706"/><rect x="1629" y="624"/><rect x="1623" y="657"/><rect x="1694" y="268"/><rect x="1613" y="729"/><rect x="1606" y="555"/><rect x="1647" y="628"/><rect x="1676" y="773"/><rect x="1656" y="755"/><rect x="1609" y="698"/><rect x="1655" y="709"/><rect x="1673" y="615"/><rect x="1600" y="695"/><rect x="1610" y="415"/><rect x="1602" y="764"/><rect x="1696" y="571"/><rect x="1607" y="744"/><rect x="1674" y="604"/><rect x="1608" y="268"/><rect x="1741" y="677"/><rect x="1734" y="738"/><rect x="1593" y="699"/><rect x="1551" y="665"/><rect x="1645" y="779"/><rect x="1650" y="781"/><rect x="1674" y="455"/><rect x="1690" y="733"/><rect x="1636" y="596"/><rect x="1611" y="259"/><rect x="1586" y="712"/><rect x="1681" y="482"/><rect x="1610" y="316"/><rect x="1673" y="656"/><rect x="1633" y="774"/><rect x="1754" y="691"/><rect x="1599" y="723"/><rect x="1617" y="300"/><rect x="1629" y="435"/><rect x="1695" y="760"/><rect x="1722" y="689"/><rect x="1756" y="721"/><rect x="1672" y="621"/><rect x="1556" y="714"/><rect x="1594" y="715"/><rect x="1749" y="717"/><rect x="1727" y="722"/><rect x="1573" y="648"/><rect x="1688" y="624"/><rect x="1635" y="706"/><rect x="1642" y="632"/><rect x="1757" y="666"/><rect x="1633" y="778"/><rect x="1647" y="677"/><rect x="1692" y="67"/><rect x="1626" y="449"/><rect x="1677" y="232"/><rect x="1685" y="768"/><rect x="1608" y="593"/><rect x="1606" y="540"/><rect x="1645" y="772"/><rect x="1610" y="355"/><rect x="1604" y="182"/><rect x="1673" y="576"/><rect x="1666" y="506"/><rect x="1595" y="678"/><rect x="1625" y="343"/><rect x="1663" y="704"/><rect x="1608" y="571"/><rect x="1653" y="787"/><rect x="1626" y="761"/><rect x="1683" y="632"/><rect x="1696" y="475"/><rect x="1679" y="221"/><rect x="1662" y="772"/><rect x="1613" y="532"/><rect x="1679" y="624"/><rect x="1620" y="513"/><rect x="1732" y="736"/><rect x="1675" y="719"/><rect x="1606" y="743"/><rect x="1552" y="674"/><rect x="1648" y="696"/><rect x="1695" y="305"/><rect x="1607" y="366"/><rect x="1608" y="354"/><rect x="1581" y="740"/><rect x="1713" y="664"/><rect x="1597" y="727"/><rect x="1668" y="450"/><rect x="1709" y="687"/><rect x="1767" y="649"/><rect x="1688" y="690"/><rect x="1614" y="574"/><rect x="1657" y="779"/><rect x="1677" y="555"/><rect x="1713" y="703"/><rect x="1663" y="783"/><rect x="1565" y="665"/><rect x="1605" y="209"/><rect x="1613" y="336"/><rect x="1554" y="716"/><rect x="1633" y="708"/><rect x="1627" y="411"/><rect x="1696" y="599"/><rect x="1725" y="646"/><rect x="1679" y="230"/><rect x="1687" y="656"/><rect x="1636" y="635"/><rect x="1677" y="225"/><rect x="1744" y="675"/><rect x="1610" y="508"/><rect x="1677" y="227"/><rect x="1690" y="443"/><rect x="1532" y="700"/><rect x="1621" y="364"/><rect x="1652" y="786"/><rect x="1626" y="498"/><rect x="1650" y="749"/><rect x="1651" y="768"/><rect x="1638" y="624"/><rect x="1686" y="594"/><rect x="1716" y="750"/><rect x="1612" y="243"/><rect x="1680" y="217"/><rect x="1625" y="371"/><rect x="1657" y="736"/><rect x="1652" y="710"/><rect x="1553" y="673"/><rect x="1661" y="576"/><rect x="1674" y="317"/><rect x="1735" y="728"/><rect x="1606" y="208"/><rect x="1625" y="752"/><rect x="1642" y="750"/><rect x="1588" y="711"/><rect x="1659" y="636"/><rect x="1607" y="241"/><rect x="1761" y="680"/><rect x="1689" y="698"/><rect x="1643" y="743"/><rect x="1734" y="717"/><rect x="1665" y="618"/><rect x="1690" y="274"/><rect x="1608" y="467"/><rect x="1665" y="774"/><rect x="1691" y="609"/><rect x="1707" y="754"/><rect x="1605" y="195"/><rect x="1673" y="279"/><rect x="1731" y="685"/><rect x="1590" y="675"/><rect x="1646" y="570"/><rect x="1627" y="691"/><rect x="1694" y="504"/><rect x="1633" y="483"/><rect x="1691" y="752"/><rect x="1633" y="585"/><rect x="1632" y="483"/><rect x="1613" y="664"/><rect x="1671" y="630"/><rect x="1600" y="654"/><rect x="1642" y="580"/><rect x="1611" y="557"/><rect x="1682" y="614"/><rect x="1606" y="221"/><rect x="1639" y="783"/><rect x="1677" y="605"/><rect x="1683" y="621"/><rect x="1680" y="214"/><rect x="1606" y="233"/><rect x="1756" y="692"/><rect x="1630" y="491"/><rect x="1696" y="762"/><rect x="1678" y="566"/><rect x="1622" y="347"/><rect x="1697" y="620"/><rect x="1629" y="553"/><rect x="1679" y="690"/><rect x="1638" y="565"/><rect x="1634" y="745"/><rect x="1557" y="680"/><rect x="1695" y="438"/><rect x="1665" y="595"/><rect x="1593" y="703"/><rect x="1669" y="705"/><rect x="1650" y="687"/><rect x="1617" y="609"/><rect x="1682" y="569"/><rect x="1628" y="664"/><rect x="1694" y="396"/><rect x="1602" y="721"/><rect x="1622" y="549"/><rect x="1679" y="344"/><rect x="1611" y="522"/><rect x="1639" y="773"/><rect x="1663" y="785"/><rect x="1604" y="213"/><rect x="1672" y="278"/><rect x="1610" y="582"/><rect x="1637" y="589"/><rect x="1559" y="719"/><rect x="1592" y="731"/><rect x="1676" y="229"/><rect x="1686" y="544"/><rect x="1634" y="608"/><rect x="1678" y="717"/><rect x="1732" y="698"/><rect x="1539" y="687"/><rect x="1675" y="455"/><rect x="1670" y="761"/><rect x="1716" y="670"/><rect x="1641" y="787"/><rect x="1679" y="225"/><rect x="1744" y="666"/><rect x="1721" y="650"/><rect x="1714" y="679"/><rect x="1647" y="614"/><rect x="1653" y="738"/><rect x="1613" y="628"/><rect x="1680" y="302"/><rect x="1679" y="574"/><rect x="1604" y="664"/><rect x="1695" y="455"/><rect x="1628" y="608"/><rect x="1610" y="631"/><rect x="1637" y="777"/><rect x="1687" y="295"/><rect x="1619" y="773"/><rect x="1618" y="341"/><rect x="1656" y="571"/><rect x="1611" y="756"/><rect x="1685" y="333"/><rect x="1693" y="605"/><rect x="1659" y="687"/><rect x="1813" y="716"/><rect x="1618" y="771"/><rect x="1597" y="761"/><rect x="1627" y="775"/><rect x="1685" y="543"/><rect x="1589" y="679"/><rect x="1683" y="308"/><rect x="1611" y="555"/><rect x="1682" y="544"/><rect x="1625" y="354"/><rect x="1612" y="614"/><rect x="1701" y="713"/><rect x="1683" y="364"/><rect x="1675" y="290"/><rect x="1633" y="602"/><rect x="1756" y="697"/><rect x="1612" y="252"/><rect x="1546" y="704"/><rect x="1692" y="344"/><rect x="1696" y="624"/><rect x="1683" y="663"/><rect x="1627" y="624"/><rect x="1693" y="441"/><rect x="1620" y="746"/><rect x="1635" y="777"/><rect x="1580" y="704"/><rect x="1673" y="439"/><rect x="1624" y="324"/><rect x="1694" y="408"/><rect x="1585" y="739"/><rect x="1613" y="302"/><rect x="1610" y="612"/><rect x="1629" y="744"/><rect x="1604" y="741"/><rect x="1682" y="767"/><rect x="1677" y="687"/><rect x="1636" y="785"/><rect x="1703" y="726"/><rect x="1681" y="250"/><rect x="1558" y="717"/><rect x="1665" y="751"/><rect x="1676" y="514"/><rect x="1658" y="760"/><rect x="1574" y="665"/><rect x="1662" y="716"/><rect x="1683" y="629"/><rect x="1686" y="503"/><rect x="1604" y="756"/><rect x="1668" y="773"/><rect x="1692" y="481"/><rect x="1582" y="696"/><rect x="1614" y="259"/><rect x="1671" y="320"/><rect x="1561" y="692"/><rect x="1639" y="785"/><rect x="1653" y="688"/><rect x="1621" y="617"/><rect x="1600" y="763"/><rect x="1696" y="554"/><rect x="1687" y="395"/><rect x="1681" y="738"/><rect x="1618" y="296"/><rect x="1737" y="721"/><rect x="1606" y="231"/><rect x="1606" y="277"/><rect x="1588" y="697"/><rect x="1564" y="735"/><rect x="1617" y="405"/><rect x="1524" y="649"/><rect x="1690" y="758"/><rect x="1688" y="313"/><rect x="1564" y="702"/><rect x="1673" y="703"/><rect x="1644" y="768"/><rect x="1676" y="557"/><rect x="1620" y="296"/><rect x="1695" y="764"/><rect x="1669" y="550"/><rect x="1614" y="706"/><rect x="1517" y="678"/><rect x="1607" y="220"/><rect x="1617" y="499"/><rect x="1706" y="721"/><rect x="1677" y="384"/><rect x="1684" y="291"/><rect x="1757" y="656"/><rect x="1647" y="589"/><rect x="1580" y="673"/><rect x="1614" y="649"/><rect x="1601" y="761"/><rect x="1696" y="423"/><rect x="1599" y="741"/><rect x="1707" y="659"/><rect x="1578" y="649"/><rect x="1711" y="737"/><rect x="1677" y="286"/><rect x="1676" y="715"/><rect x="1673" y="506"/><rect x="1585" y="742"/><rect x="1668" y="658"/><rect x="1624" y="486"/><rect x="1676" y="527"/><rect x="1589" y="680"/><rect x="1620" y="515"/><rect x="1533" y="684"/><rect x="1537" y="655"/><rect x="1656" y="590"/><rect x="1652" y="627"/><rect x="1568" y="706"/><rect x="1673" y="533"/><rect x="1702" y="658"/><rect x="1610" y="750"/><rect x="1631" y="548"/><rect x="1697" y="252"/><rect x="1644" y="546"/><rect x="1646" y="668"/><rect x="1646" y="764"/><rect x="1727" y="682"/><rect x="1741" y="657"/><rect x="1607" y="254"/><rect x="1668" y="410"/><rect x="1733" y="732"/><rect x="1615" y="340"/><rect x="1612" y="746"/><rect x="1671" y="458"/><rect x="1551" y="672"/><rect x="1677" y="591"/><rect x="1634" y="498"/><rect x="1731" y="655"/><rect x="1647" y="700"/><rect x="1659" y="576"/></g>
<g class="r"><rect x="1712" y="281"/><rect x="1569" y="306"/><rect x="1593" y="497"/><rect x="1552" y="584"/><rect x="1581" y="192"/><rect x="1716" y="194"/><rect x="1592" y="456"/><rect x="1587" y="415"/><rect x="1767" y="524"/><rect x="1542" y="556"/><rect x="1715" y="393"/><rect x="1575" y="153"/><rect x="1583" y="188"/><rect x="1587" y="192"/><rect x="1709" y="488"/><rect x="1730" y="347"/><rect x="1589" y="140"/><rect x="1748" y="531"/><rect x="1584" y="567"/><rect x="1708" y="393"/><rect x="1552" y="559"/><rect x="1811" y="602"/><rect x="1741" y="502"/><rect x="1713" y="577"/><rect x="1568" y="598"/><rect x="1706" y="528"/><rect x="1707" y="565"/><rect x="1578" y="199"/><rect x="1590" y="110"/><rect x="1593" y="90"/><rect x="1708" y="440"/><rect x="1584" y="348"/><rect x="1733" y="605"/><rect x="1588" y="558"/><rect x="1563" y="543"/><rect x="1737" y="432"/><rect x="1708" y="424"/><rect x="1727" y="304"/><rect x="1590" y="161"/><rect x="1709" y="489"/><rect x="1553" y="421"/><rect x="1538" y="561"/><rect x="1751" y="441"/><rect x="1591" y="354"/><rect x="1587" y="301"/><rect x="1708" y="617"/><rect x="1722" y="281"/><rect x="1711" y="629"/><rect x="1590" y="542"/><rect x="1561" y="539"/><rect x="1713" y="490"/><rect x="1560" y="322"/><rect x="1712" y="360"/><rect x="1744" y="409"/><rect x="1743" y="423"/><rect x="1711" y="507"/><rect x="1711" y="286"/><rect x="1709" y="556"/><rect x="1590" y="122"/><rect x="1563" y="509"/><rect x="1751" y="237"/><rect x="1583" y="465"/><rect x="1585" y="389"/><rect x="1708" y="237"/><rect x="1493" y="377"/><rect x="1747" y="633"/><rect x="1591" y="277"/><rect x="1591" y="134"/><rect x="1592" y="386"/><rect x="1583" y="287"/><rect x="1534" y="621"/><rect x="1710" y="304"/><rect x="1709" y="295"/><rect x="1591" y="123"/><rect x="1555" y="572"/><rect x="1592" y="453"/><rect x="1562" y="544"/><rect x="1586" y="460"/><rect x="1593" y="274"/><rect x="1709" y="546"/><rect x="1591" y="255"/><rect x="1706" y="275"/><rect x="1591" y="135"/><rect x="1584" y="531"/><rect x="1591" y="378"/><rect x="1731" y="417"/><rect x="1707" y="509"/><rect x="1706" y="547"/><rect x="1591" y="142"/><rect x="1712" y="305"/><rect x="1721" y="282"/><rect x="1569" y="519"/><rect x="1541" y="535"/><rect x="1560" y="508"/><rect x="1551" y="549"/><rect x="1759" y="577"/><rect x="1576" y="546"/><rect x="1741" y="409"/><rect x="1542" y="513"/><rect x="1723" y="364"/><rect x="1557" y="593"/><rect x="1717" y="390"/><rect x="1707" y="434"/><rect x="1591" y="216"/><rect x="1550" y="496"/><rect x="1758" y="310"/><rect x="1572" y="177"/><rect x="1589" y="547"/><rect x="1539" y="513"/><rect x="1542" y="605"/><rect x="1543" y="590"/><rect x="1532" y="517"/><rect x="1725" y="370"/><rect x="1884" y="622"/><rect x="1592" y="130"/><rect x="1542" y="583"/><rect x="1713" y="502"/><rect x="1712" y="404"/><rect x="1721" y="448"/><rect x="1593" y="88"/><rect x="1592" y="530"/><rect x="1591" y="201"/><rect x="1716" y="617"/><rect x="1560" y="596"/><rect x="1592" y="507"/><rect x="1713" y="575"/><rect x="1543" y="532"/><rect x="1727" y="369"/><rect x="1711" y="429"/><rect x="1592" y="468"/><rect x="1540" y="593"/><rect x="1544" y="568"/><rect x="1729" y="384"/><rect x="1538" y="591"/><rect x="1706" y="463"/><rect x="1530" y="642"/><rect x="1547" y="626"/><rect x="1585" y="100"/><rect x="1713" y="553"/><rect x="1592" y="181"/><rect x="1724" y="554"/><rect x="1589" y="316"/><rect x="1742" y="204"/><rect x="1723" y="377"/><rect x="1574" y="522"/><rect x="1545" y="564"/><rect x="1715" y="551"/><rect x="1759" y="558"/><rect x="1574" y="530"/><rect x="1713" y="434"/><rect x="1710" y="502"/><rect x="1591" y="413"/><rect x="1717" y="274"/><rect x="1733" y="580"/><rect x="1590" y="300"/><rect x="1592" y="225"/><rect x="1733" y="346"/><rect x="1743" y="503"/><rect x="1735" y="445"/><rect x="1588" y="109"/><rect x="1574" y="343"/><rect x="1544" y="604"/><rect x="1590" y="281"/><rect x="1720" y="275"/><rect x="1588" y="95"/><rect x="1589" y="470"/><rect x="1589" y="340"/><rect x="1708" y="303"/><rect x="1713" y="351"/><rect x="1592" y="214"/><rect x="1707" y="463"/><rect x="1720" y="286"/><rect x="1768" y="374"/><rect x="1592" y="526"/><rect x="1712" y="515"/><rect x="1592" y="296"/><rect x="1583" y="245"/><rect x="1587" y="360"/><rect x="1739" y="491"/><rect x="1565" y="577"/><rect x="1583" y="268"/><rect x="1708" y="346"/><rect x="1579" y="301"/><rect x="1583" y="195"/><rect x="1589" y="510"/><rect x="1558" y="341"/><rect x="1707" y="368"/><rect x="1584" y="104"/><rect x="1712" y="410"/><rect x="1591" y="625"/><rect x="1707" y="480"/><rect x="1580" y="219"/><rect x="1577" y="247"/><rect x="1555" y="503"/><rect x="1542" y="637"/><rect x="1587" y="494"/><rect x="1593" y="436"/><rect x="1546" y="361"/><rect x="1573" y="454"/><rect x="1707" y="342"/><rect x="1734" y="437"/><rect x="1729" y="493"/><rect x="1591" y="617"/><rect x="1739" y="459"/><rect x="1742" y="408"/><rect x="1714" y="457"/><rect x="1568" y="529"/><rect x="1592" y="133"/><rect x="1579" y="527"/><rect x="1568" y="594"/><rect x="1587" y="221"/><rect x="1552" y="499"/><rect x="1565" y="572"/><rect x="1589" y="320"/><rect x="1725" y="613"/><rect x="1590" y="304"/><rect x="1581" y="582"/><rect x="1724" y="368"/><rect x="1707" y="448"/><rect x="1759" y="528"/><rect x="1713" y="544"/><rect x="1739" y="334"/><rect x="1710" y="574"/><rect x="1574" y="590"/><rect x="1587" y="190"/><rect x="1731" y="515"/><rect x="1552" y="563"/><rect x="1573" y="430"/><rect x="1589" y="88"/><rect x="1575" y="206"/><rect x="1780" y="544"/><rect x="1590" y="204"/><rect x="1582" y="615"/><rect x="1553" y="601"/><rect x="1719" y="387"/><rect x="1714" y="297"/><rect x="1592" y="90"/><rect x="1708" y="610"/><rect x="1450" y="464"/><rect x="1706" y="490"/><rect x="1737" y="342"/><rect x="1588" y="199"/><rect x="1533" y="639"/><rect x="1570" y="156"/><rect x="1554" y="411"/><rect x="1720" y="536"/><rect x="1716" y="627"/><rect x="1590" y="160"/><rect x="1717" y="461"/><rect x="1708" y="577"/><rect x="1734" y="529"/><rect x="1581" y="514"/><rect x="1557" y="528"/><rect x="1776" y="628"/><rect x="1747" y="543"/><rect x="1580" y="189"/><rect x="1551" y="457"/><rect x="1571" y="597"/><rect x="1548" y="564"/><rect x="1719" y="539"/><rect x="1556" y="628"/><rect x="1711" y="624"/><rect x="1561" y="498"/><rect x="1579" y="379"/><rect x="1577" y="191"/><rect x="1734" y="538"/><rect x="1590" y="146"/><rect x="1745" y="441"/><rect x="1571" y="513"/><rect x="1586" y="109"/><rect x="1587" y="280"/><rect x="1592" y="479"/><rect x="1589" y="242"/><rect x="1581" y="290"/><rect x="1556" y="468"/><rect x="1592" y="241"/><rect x="1584" y="432"/><rect x="1584" y="282"/><rect x="1570" y="553"/><rect x="1706" y="281"/><rect x="1551" y="551"/><rect x="1566" y="527"/><rect x="1751" y="443"/><rect x="1708" y="295"/><rect x="1721" y="419"/><rect x="1586" y="104"/><rect x="1719" y="227"/><rect x="1498" y="456"/><rect x="1708" y="285"/><rect x="1715" y="535"/><rect x="1724" y="506"/><rect x="1592" y="142"/><rect x="1591" y="211"/><rect x="1586" y="429"/><rect x="1591" y="228"/><rect x="1543" y="569"/><rect x="1587" y="345"/><rect x="1754" y="606"/><rect x="1442" y="454"/><rect x="1593" y="364"/><rect x="1591" y="275"/><rect x="1544" y="520"/><rect x="1712" y="616"/><rect x="1547" y="488"/><rect x="1590" y="128"/><rect x="1564" y="173"/><rect x="1592" y="547"/><rect x="1593" y="109"/><rect x="1589" y="537"/><rect x="1572" y="353"/><rect x="1572" y="522"/><rect x="1720" y="358"/><rect x="1723" y="362"/><rect x="1591" y="266"/><rect x="1707" y="298"/><rect x="1744" y="522"/><rect x="1739" y="465"/><rect x="1707" y="297"/><rect x="1589" y="586"/><rect x="1589" y="256"/><rect x="1557" y="320"/><rect x="1569" y="259"/><rect x="1725" y="635"/><rect x="1431" y="480"/><rect x="1589" y="390"/><rect x="1564" y="595"/><rect x="1785" y="533"/><rect x="1590" y="631"/><rect x="1714" y="554"/><rect x="1573" y="349"/><rect x="1440" y="444"/><rect x="1712" y="319"/><rect x="1726" y="568"/><rect x="1574" y="228"/><rect x="1591" y="411"/><rect x="1733" y="632"/><rect x="1742" y="428"/><rect x="1583" y="350"/><rect x="1593" y="296"/><rect x="1723" y="288"/><rect x="1722" y="282"/><rect x="1723" y="495"/><rect x="1410" y="432"/><rect x="1547" y="556"/><rect x="1551" y="429"/><rect x="1556" y="443"/><rect x="1735" y="596"/><rect x="1534" y="591"/><rect x="1723" y="375"/><rect x="1572" y="372"/><rect x="1591" y="101"/><rect x="1592" y="433"/><rect x="1589" y="426"/><rect x="1587" y="111"/><rect x="1586" y="187"/><rect x="1592" y="186"/><rect x="1709" y="222"/><rect x="1593" y="186"/><rect x="1567" y="455"/><rect x="1592" y="411"/><rect x="1734" y="608"/><rect x="1590" y="205"/><rect x="1577" y="495"/><rect x="1706" y="392"/><rect x="1578" y="558"/><rect x="1710" y="327"/><rect x="1542" y="552"/><rect x="1593" y="87"/><rect x="1740" y="384"/><rect x="1589" y="589"/><rect x="1585" y="517"/><rect x="1584" y="228"/><rect x="1587" y="222"/><rect x="1544" y="529"/><rect x="1713" y="453"/><rect x="1732" y="582"/><rect x="1726" y="274"/><rect x="1592" y="301"/><rect x="1727" y="334"/><rect x="1735" y="619"/><rect x="1576" y="606"/><rect x="1517" y="613"/><rect x="1717" y="467"/><rect x="1714" y="420"/><rect x="1707" y="480"/><rect x="1556" y="602"/><rect x="1731" y="508"/><rect x="1588" y="194"/><rect x="1567" y="345"/><rect x="1733" y="273"/><rect x="1709" y="599"/><rect x="1587" y="211"/><rect x="1742" y="624"/><rect x="1488" y="451"/><rect x="1733" y="427"/><rect x="1572" y="585"/><rect x="1584" y="439"/><rect x="1711" y="491"/><rect x="1573" y="349"/><rect x="1726" y="307"/><rect x="1570" y="303"/><rect x="1593" y="409"/><rect x="1576" y="534"/><rect x="1586" y="159"/><rect x="1744" y="513"/><rect x="1589" y="502"/><rect x="1729" y="422"/><rect x="1712" y="381"/><rect x="1707" y="496"/><rect x="1454" y="439"/><rect x="1589" y="466"/><rect x="1712" y="539"/><rect x="1571" y="413"/><rect x="1707" y="300"/><rect x="1575" y="140"/><rect x="1743" y="464"/><rect x="1736" y="458"/><rect x="1778" y="530"/><rect x="1706" y="412"/><rect x="1579" y="401"/><rect x="1591" y="175"/><rect x="1571" y="603"/><rect x="1587" y="394"/><rect x="1584" y="199"/><rect x="1539" y="554"/><rect x="1579" y="268"/><rect x="1571" y="535"/><rect x="1542" y="565"/><rect x="1707" y="371"/><rect x="1741" y="482"/><rect x="1746" y="558"/><rect x="1556" y="593"/><rect x="1582" y="384"/><rect x="1582" y="277"/><rect x="1558" y="515"/><rect x="1568" y="531"/><rect x="1738" y="632"/><rect x="1718" y="543"/><rect x="1715" y="355"/><rect x="1708" y="402"/><rect x="1738" y="396"/><rect x="1778" y="567"/><rect x="1707" y="414"/><rect x="1584" y="279"/><rect x="1579" y="543"/><rect x="1734" y="384"/><rect x="1708" y="492"/><rect x="1551" y="405"/><rect x="1540" y="539"/><rect x="1735" y="596"/><rect x="1530" y="598"/><rect x="1541" y="558"/><rect x="1712" y="546"/><rect x="1719" y="625"/><rect x="1574" y="462"/><rect x="1590" y="323"/><rect x="1752" y="531"/><rect x="1709" y="357"/><rect x="1570" y="435"/><rect x="1569" y="625"/><rect x="1590" y="199"/><rect x="1598" y="83"/><rect x="1581" y="544"/><rect x="1592" y="596"/><rect x="1564" y="256"/><rect x="1709" y="391"/><rect x="1551" y="462"/><rect x="1592" y="350"/><rect x="1542" y="616"/><rect x="1733" y="585"/><rect x="1782" y="544"/><rect x="1578" y="271"/><rect x="1587" y="464"/><rect x="1546" y="531"/><rect x="1576" y="190"/><rect x="1720" y="338"/><rect x="1774" y="465"/><rect x="1592" y="299"/><rect x="1578" y="564"/><rect x="1561" y="502"/><rect x="1731" y="470"/><rect x="1582" y="221"/><rect x="1582" y="353"/><rect x="1592" y="103"/><rect x="1490" y="461"/><rect x="1748" y="513"/><rect x="1585" y="102"/><rect x="1711" y="293"/><rect x="1706" y="446"/><rect x="1738" y="489"/><rect x="1536" y="529"/><rect x="1552" y="213"/><rect x="1733" y="593"/><rect x="1729" y="284"/><rect x="1586" y="641"/><rect x="1557" y="633"/><rect x="1723" y="434"/><rect x="1497" y="404"/><rect x="1589" y="629"/><rect x="1717" y="422"/><rect x="1591" y="569"/><rect x="1742" y="603"/><rect x="1706" y="337"/><rect x="1721" y="303"/><rect x="1571" y="346"/><rect x="1540" y="555"/><rect x="1727" y="342"/><rect x="1709" y="306"/><rect x="1727" y="269"/><rect x="1721" y="462"/><rect x="1752" y="606"/><rect x="1533" y="613"/><rect x="1559" y="506"/><rect x="1718" y="385"/><rect x="1536" y="595"/><rect x="1725" y="565"/><rect x="1707" y="336"/><rect x="1575" y="500"/><rect x="1724" y="300"/><rect x="1577" y="552"/><rect x="1592" y="270"/><rect x="1581" y="241"/><rect x="1711" y="632"/><rect x="1389" y="452"/><rect x="1542" y="537"/><rect x="1576" y="568"/><rect x="1538" y="541"/><rect x="1590" y="315"/><rect x="1560" y="610"/><rect x="1554" y="439"/><rect x="1589" y="638"/><rect x="1567" y="578"/><rect x="1464" y="447"/><rect x="1707" y="521"/><rect x="1517" y="622"/><rect x="1559" y="527"/><rect x="1707" y="364"/><rect x="1733" y="497"/><rect x="1521" y="613"/><rect x="1714" y="324"/><rect x="1589" y="385"/><rect x="1716" y="381"/><rect x="1722" y="273"/><rect x="1591" y="401"/><rect x="1718" y="520"/><rect x="1492" y="569"/><rect x="1588" y="220"/><rect x="1714" y="376"/><rect x="1592" y="322"/><rect x="1549" y="540"/><rect x="1581" y="143"/><rect x="1571" y="503"/><rect x="1579" y="374"/><rect x="1580" y="235"/><rect x="1725" y="466"/><rect x="1734" y="379"/><rect x="1574" y="350"/><rect x="1587" y="365"/><rect x="1710" y="418"/><rect x="1574" y="581"/><rect x="1715" y="283"/><rect x="1553" y="600"/><rect x="1586" y="379"/><rect x="1751" y="552"/><rect x="1720" y="301"/><rect x="1713" y="529"/><rect x="1532" y="626"/><rect x="1717" y="544"/><rect x="1714" y="347"/><rect x="1583" y="467"/><rect x="1589" y="333"/><rect x="1589" y="263"/><rect x="1573" y="595"/><rect x="1718" y="317"/><rect x="1710" y="619"/><rect x="1717" y="275"/><rect x="1708" y="312"/><rect x="1576" y="395"/><rect x="1758" y="607"/><rect x="1588" y="322"/><rect x="1517" y="546"/><rect x="1746" y="547"/><rect x="1708" y="523"/><rect x="1593" y="87"/><rect x="1559" y="523"/><rect x="1710" y="449"/><rect x="1714" y="466"/><rect x="1577" y="353"/><rect x="1714" y="536"/><rect x="1592" y="302"/><rect x="1726" y="459"/><rect x="1573" y="163"/><rect x="1710" y="635"/><rect x="1718" y="498"/><rect x="1588" y="314"/><rect x="1721" y="516"/><rect x="1717" y="618"/><rect x="1592" y="91"/><rect x="1571" y="385"/><rect x="1710" y="427"/><rect x="1581" y="232"/><rect x="1711" y="415"/><rect x="1584" y="268"/><rect x="1744" y="491"/><rect x="1760" y="562"/><rect x="1550" y="534"/><rect x="1577" y="344"/><rect x="1725" y="293"/><rect x="1707" y="416"/><rect x="1571" y="570"/><rect x="1577" y="210"/><rect x="1495" y="607"/><rect x="1739" y="484"/><rect x="1581" y="155"/><rect x="1559" y="506"/><rect x="1716" y="368"/><rect x="1733" y="411"/><rect x="1525" y="608"/><rect x="1578" y="494"/><rect x="1713" y="569"/><rect x="1573" y="506"/><rect x="1592" y="469"/><rect x="1726" y="514"/><rect x="1591" y="641"/><rect x="1586" y="353"/><rect x="1587" y="231"/><rect x="1707" y="421"/><rect x="1586" y="642"/><rect x="1756" y="605"/><rect x="1732" y="507"/><rect x="1536" y="629"/><rect x="1584" y="153"/><rect x="1580" y="501"/><rect x="1566" y="250"/><rect x="1737" y="472"/><rect x="1581" y="545"/><rect x="1743" y="572"/><rect x="1709" y="391"/><rect x="1552" y="550"/><rect x="1749" y="632"/><rect x="1591" y="249"/><rect x="1735" y="611"/><rect x="1739" y="412"/><rect x="1573" y="503"/><rect x="1589" y="440"/><rect x="1774" y="535"/><rect x="1758" y="610"/><rect x="1749" y="617"/><rect x="1727" y="408"/><rect x="1578" y="390"/><rect x="1709" y="278"/><rect x="1725" y="528"/><rect x="1593" y="231"/><rect x="1710" y="419"/><rect x="1589" y="373"/><rect x="1588" y="422"/><rect x="1706" y="469"/><rect x="1574" y="218"/><rect x="1717" y="390"/><rect x="1580" y="519"/><rect x="1707" y="456"/><rect x="1592" y="116"/><rect x="1713" y="349"/><rect x="1578" y="534"/><rect x="1572" y="542"/><rect x="1712" y="385"/><rect x="1590" y="172"/><rect x="1578" y="590"/><rect x="1709" y="354"/><rect x="1564" y="497"/><rect x="1546" y="599"/><rect x="1714" y="473"/><rect x="1586" y="399"/><rect x="1572" y="639"/><rect x="1708" y="471"/><rect x="1532" y="599"/><rect x="1586" y="239"/><rect x="1574" y="586"/><rect x="1710" y="396"/><rect x="1737" y="425"/><rect x="1728" y="321"/><rect x="1560" y="640"/><rect x="1707" y="480"/><rect x="1590" y="239"/><rect x="1713" y="369"/><rect x="1554" y="547"/><rect x="1579" y="500"/><rect x="1581" y="539"/><rect x="1538" y="602"/><rect x="1711" y="300"/><rect x="1707" y="450"/><rect x="1730" y="406"/><rect x="1588" y="131"/><rect x="1591" y="132"/><rect x="1567" y="404"/><rect x="1593" y="634"/><rect x="1589" y="334"/><rect x="1719" y="622"/><rect x="1571" y="424"/><rect x="1584" y="505"/><rect x="1707" y="375"/><rect x="1709" y="537"/><rect x="1730" y="417"/><rect x="1729" y="560"/><rect x="1554" y="478"/><rect x="1587" y="498"/><rect x="1585" y="447"/><rect x="1575" y="309"/><rect x="1588" y="326"/><rect x="1589" y="270"/><rect x="1740" y="424"/><rect x="1709" y="444"/><rect x="1713" y="499"/><rect x="1712" y="581"/><rect x="1582" y="336"/><rect x="1590" y="118"/><rect x="1734" y="480"/><rect x="1557" y="569"/><rect x="1757" y="588"/><rect x="1592" y="426"/><rect x="1584" y="330"/><rect x="1749" y="612"/><rect x="1725" y="510"/><rect x="1587" y="297"/><rect x="1715" y="296"/><rect x="1710" y="587"/><rect x="1549" y="629"/><rect x="1749" y="531"/><rect x="1573" y="230"/><rect x="1554" y="527"/><rect x="1589" y="552"/><rect x="1591" y="161"/><rect x="1590" y="102"/><rect x="1566" y="508"/><rect x="1580" y="542"/><rect x="1715" y="441"/><rect x="1528" y="623"/><rect x="1592" y="265"/><rect x="1717" y="442"/><rect x="1591" y="141"/><rect x="1743" y="396"/><rect x="1590" y="633"/><rect x="1714" y="564"/><rect x="1557" y="515"/><rect x="1540" y="542"/><rect x="1571" y="399"/><rect x="1708" y="382"/><rect x="1707" y="498"/><rect x="1576" y="432"/><rect x="1707" y="403"/><rect x="1778" y="538"/><rect x="1712" y="357"/><rect x="1526" y="618"/><rect x="1590" y="405"/><rect x="1590" y="556"/><rect x="1572" y="576"/><rect x="1544" y="504"/><rect x="1890" y="618"/><rect x="1744" y="450"/><rect x="1732" y="591"/><rect x="1589" y="557"/><rect x="1780" y="537"/><rect x="1583" y="263"/><rect x="1474" y="406"/><rect x="1723" y="572"/><rect x="1716" y="476"/><rect x="1592" y="425"/><rect x="1707" y="488"/><rect x="1578" y="354"/><rect x="1709" y="585"/><rect x="1736" y="483"/><rect x="1736" y="330"/><rect x="1566" y="155"/><rect x="1541" y="549"/><rect x="1551" y="614"/><rect x="1569" y="549"/><rect x="1590" y="500"/><rect x="1708" y="291"/><rect x="1591" y="561"/><rect x="1714" y="290"/><rect x="1547" y="610"/><rect x="1708" y="598"/><rect x="1577" y="415"/><rect x="1538" y="513"/><rect x="1725" y="299"/><rect x="1709" y="376"/><rect x="1576" y="610"/><rect x="1706" y="380"/><rect x="1590" y="522"/><rect x="1580" y="402"/><rect x="1581" y="274"/><rect x="1516" y="645"/><rect x="1732" y="310"/><rect x="1589" y="606"/><rect x="1713" y="278"/><rect x="1730" y="393"/><rect x="1737" y="425"/><rect x="1560" y="604"/><rect x="1707" y="427"/><rect x="1721" y="543"/><rect x="1713" y="544"/><rect x="1734" y="407"/><rect x="1534" y="608"/><rect x="1723" y="286"/><rect x="1713" y="284"/><rect x="1733" y="122"/><rect x="1579" y="227"/><rect x="1566" y="250"/><rect x="1529" y="594"/><rect x="1572" y="413"/><rect x="1588" y="299"/><rect x="1729" y="502"/></g>
<g class="g"><rect x="1677" y="232"/><rect x="1730" y="740"/><rect x="1672" y="753"/><rect x="1606" y="208"/><rect x="1689" y="727"/><rect x="1679" y="576"/><rect x="1672" y="542"/><rect x="1665" y="529"/><rect x="1650" y="778"/><rect x="1606" y="527"/><rect x="1640" y="611"/><rect x="1767" y="670"/><rect x="1648" y="555"/><rect x="1669" y="361"/><rect x="1689" y="367"/><rect x="1615" y="272"/><rect x="1638" y="550"/><rect x="1595" y="758"/><rect x="1549" y="678"/><rect x="1759" y="700"/><rect x="1679" y="565"/><rect x="1648" y="781"/><rect x="1618" y="248"/><rect x="1634" y="605"/><rect x="1632" y="467"/><rect x="1706" y="657"/><rect x="1536" y="699"/><rect x="1724" y="737"/><rect x="1560" y="649"/><rect x="1676" y="496"/><rect x="1612" y="666"/><rect x="1576" y="701"/><rect x="1695" y="393"/><rect x="1662" y="683"/><rect x="1536" y="667"/><rect x="1748" y="691"/><rect x="1655" y="615"/><rect x="1745" y="669"/><rect x="1676" y="445"/><rect x="1609" y="620"/><rect x="1604" y="235"/><rect x="1608" y="396"/><rect x="1659" y="555"/><rect x="1612" y="576"/><rect x="1617" y="363"/><rect x="1748" y="724"/><rect x="1625" y="494"/><rect x="1674" y="311"/><rect x="1609" y="541"/><rect x="1608" y="230"/><rect x="1624" y="317"/><rect x="1654" y="549"/><rect x="1630" y="664"/><rect x="1605" y="228"/><rect x="1750" y="704"/><rect x="1649" y="779"/><rect x="1694" y="595"/><rect x="1623" y="479"/><rect x="1590" y="723"/><rect x="1606" y="415"/><rect x="1629" y="587"/><rect x="1668" y="626"/><rect x="1531" y="699"/><rect x="1685" y="720"/><rect x="1658" y="730"/><rect x="1627" y="427"/><rect x="1696" y="396"/><rect x="1605" y="240"/><rect x="1649" y="596"/><rect x="1582" y="729"/><rect x="1684" y="538"/><rect x="1606" y="447"/><rect x="1644" y="606"/><rect x="1665" y="512"/><rect x="1674" y="542"/><rect x="1563" y="669"/><rect x="1649" y="757"/><rect x="1662" y="783"/><rect x="1614" y="339"/><rect x="1609" y="725"/><rect x="1667" y="750"/><rect x="1652" y="773"/><rect x="1562" y="648"/><rect x="1665" y="722"/><rect x="1751" y="720"/><rect x="1663" y="685"/><rect x="1682" y="293"/><rect x="1532" y="667"/><rect x="1694" y="759"/><rect x="1682" y="247"/><rect x="1684" y="430"/><rect x="1752" y="692"/><rect x="1617" y="265"/><rect x="1725" y="742"/><rect x="1610" y="735"/><rect x="1681" y="766"/><rect x="1737" y="693"/><rect x="1694" y="322"/><rect x="1643" y="785"/><rect x="1767" y="658"/><rect x="1642" y="750"/><rect x="1592" y="663"/><rect x="1548" y="649"/><rect x="1722" y="656"/><rect x="1653" y="713"/><rect x="1678" y="235"/><rect x="1667" y="775"/><rect x="1646" y="734"/><rect x="1604" y="723"/><rect x="1550" y="676"/><rect x="1650" y="602"/><rect x="1645" y="743"/><rect x="1644" y="594"/><rect x="1648" y="700"/><rect x="1645" y="736"/><rect x="1652" y="633"/><rect x="1648" y="752"/><rect x="1646" y="656"/><rect x="1654" y="753"/><rect x="1652" y="668"/><rect x="1652" y="711"/><rect x="1643" y="773"/><rect x="1652" y="619"/><rect x="1647" y="572"/><rect x="1647" y="564"/><rect x="1654" y="663"/><rect x="1648" y="632"/><rect x="1649" y="620"/><rect x="1648" y="667"/><rect x="1651" y="607"/><rect x="1647" y="700"/><rect x="1651" y="762"/><rect x="1645" y="609"/><rect x="1654" y="721"/><rect x="1655" y="780"/><rect x="1651" y="648"/><rect x="1650" y="610"/><rect x="1647" y="727"/><rect x="1649" y="751"/><rect x="1654" y="750"/><rect x="1649" y="613"/><rect x="1654" y="654"/><rect x="1643" y="752"/><rect x="1650" y="738"/><rect x="1654" y="602"/><rect x="1646" y="579"/><rect x="1646" y="682"/><rect x="1649" y="661"/><rect x="1643" y="691"/><rect x="1648" y="608"/><rect x="1653" y="578"/><rect x="1655" y="725"/><rect x="1648" y="574"/><rect x="1655" y="729"/><rect x="1645" y="582"/><rect x="1644" y="686"/><rect x="1650" y="783"/><rect x="1650" y="764"/><rect x="1646" y="572"/><rect x="1647" y="596"/><rect x="1646" y="741"/><rect x="1645" y="703"/><rect x="1652" y="790"/><rect x="1644" y="690"/><rect x="1649" y="780"/><rect x="1654" y="666"/><rect x="1649" y="677"/><rect x="1647" y="685"/><rect x="1653" y="711"/><rect x="1651" y="775"/><rect x="1655" y="638"/><rect x="1652" y="661"/><rect x="1649" y="644"/><rect x="1651" y="628"/><rect x="1651" y="719"/><rect x="1652" y="583"/><rect x="1654" y="589"/><rect x="1645" y="643"/><rect x="1647" y="626"/><rect x="1643" y="728"/><rect x="1645" y="629"/><rect x="1645" y="712"/><rect x="1649" y="764"/><rect x="1646" y="677"/><rect x="1647" y="773"/><rect x="1592" y="675"/><rect x="1599" y="678"/><rect x="1619" y="278"/><rect x="1638" y="763"/><rect x="1717" y="711"/><rect x="1688" y="296"/><rect x="1631" y="554"/><rect x="1687" y="743"/><rect x="1548" y="663"/><rect x="1631" y="746"/><rect x="1645" y="785"/><rect x="1607" y="318"/><rect x="1630" y="544"/><rect x="1572" y="717"/><rect x="1705" y="659"/><rect x="1638" y="722"/><rect x="1639" y="786"/><rect x="1679" y="317"/><rect x="1616" y="443"/><rect x="1617" y="739"/><rect x="1574" y="725"/><rect x="1724" y="684"/><rect x="1668" y="432"/><rect x="1617" y="487"/><rect x="1675" y="235"/><rect x="1535" y="675"/><rect x="1644" y="773"/><rect x="1694" y="532"/><rect x="1602" y="752"/><rect x="1675" y="620"/><rect x="1628" y="434"/><rect x="1579" y="722"/><rect x="1625" y="454"/><rect x="1685" y="676"/><rect x="1694" y="399"/><rect x="1618" y="262"/><rect x="1606" y="511"/><rect x="1670" y="778"/><rect x="1641" y="591"/><rect x="1623" y="756"/><rect x="1538" y="672"/><rect x="1627" y="618"/><rect x="1678" y="436"/><rect x="1675" y="267"/><rect x="1639" y="673"/><rect x="1606" y="497"/><rect x="1568" y="669"/><rect x="1680" y="394"/><rect x="1681" y="399"/><rect x="1613" y="529"/><rect x="1551" y="658"/><rect x="1653" y="734"/><rect x="1682" y="711"/><rect x="1631" y="583"/><rect x="1515" y="644"/><rect x="1676" y="759"/><rect x="1606" y="716"/><rect x="1676" y="247"/><rect x="1607" y="269"/><rect x="1668" y="557"/><rect x="1647" y="765"/><rect x="1664" y="774"/><rect x="1757" y="698"/><rect x="1670" y="381"/><rect x="1612" y="600"/><rect x="1680" y="578"/><rect x="1650" y="786"/><rect x="1616" y="411"/><rect x="1616" y="396"/><rect x="1694" y="334"/><rect x="1662" y="719"/><rect x="1685" y="770"/><rect x="1620" y="722"/><rect x="1605" y="182"/><rect x="1650" y="788"/><rect x="1688" y="712"/><rect x="1640" y="701"/><rect x="1626" y="589"/><rect x="1671" y="664"/><rect x="1667" y="548"/><rect x="1560" y="663"/><rect x="1597" y="676"/><rect x="1681" y="619"/><rect x="1635" y="782"/><rect x="1674" y="600"/><rect x="1689" y="763"/><rect x="1626" y="753"/><rect x="1677" y="236"/><rect x="1729" y="649"/><rect x="1644" y="668"/><rect x="1545" y="693"/><rect x="1684" y="344"/><rect x="1686" y="389"/><rect x="1651" y="770"/><rect x="1608" y="716"/><rect x="1696" y="291"/><rect x="1689" y="405"/><rect x="1674" y="260"/><rect x="1690" y="444"/><rect x="1610" y="739"/><rect x="1545" y="706"/><rect x="1628" y="759"/><rect x="1614" y="558"/><rect x="1687" y="280"/><rect x="1625" y="605"/><rect x="1606" y="625"/><rect x="1576" y="696"/><rect x="1760" y="693"/><rect x="1610" y="603"/><rect x="1679" y="697"/><rect x="1648" y="625"/><path d="M1656.0 600.0V778.0" stroke="#858585" stroke-width="4.5" fill="none"/><rect x="1617" y="745"/><rect x="1639" y="787"/><rect x="1694" y="542"/><rect x="1663" y="674"/><rect x="1622" y="669"/><rect x="1691" y="580"/><rect x="1646" y="779"/><rect x="1687" y="597"/><rect x="1533" y="666"/><rect x="1741" y="693"/><rect x="1667" y="436"/><rect x="1614" y="771"/><rect x="1683" y="509"/><rect x="1676" y="261"/><rect x="1710" y="690"/><rect x="1694" y="515"/><rect x="1535" y="706"/><rect x="1695" y="281"/><rect x="1718" y="670"/><rect x="1516" y="660"/><rect x="1607" y="270"/><rect x="1697" y="610"/><rect x="1691" y="748"/><rect x="1701" y="667"/><rect x="1745" y="718"/><rect x="1607" y="525"/><rect x="1645" y="593"/><rect x="1674" y="766"/><rect x="1662" y="679"/><rect x="1653" y="566"/><rect x="1609" y="580"/><rect x="1687" y="626"/><rect x="1627" y="498"/><rect x="1569" y="714"/><rect x="1607" y="631"/><rect x="1646" y="570"/><rect x="1614" y="281"/><rect x="1625" y="747"/><rect x="1531" y="685"/><rect x="1660" y="773"/><rect x="1703" y="686"/><rect x="1630" y="676"/><rect x="1737" y="723"/><rect x="1612" y="632"/><rect x="1605" y="200"/><rect x="1658" y="684"/><rect x="1579" y="690"/><rect x="1602" y="717"/><rect x="1667" y="636"/><rect x="1699" y="744"/><rect x="1616" y="466"/><rect x="1700" y="707"/><rect x="1662" y="590"/><rect x="1621" y="688"/><rect x="1600" y="685"/><rect x="1639" y="760"/><rect x="1612" y="738"/><rect x="1607" y="226"/><rect x="1672" y="558"/><rect x="1648" y="573"/><rect x="1552" y="659"/><rect x="1686" y="497"/><rect x="1710" y="731"/><rect x="1650" y="721"/><rect x="1607" y="191"/><rect x="1678" y="583"/><rect x="1634" y="512"/><rect x="1684" y="279"/><rect x="1688" y="609"/><rect x="1557" y="720"/><rect x="1626" y="422"/><rect x="1636" y="768"/><rect x="1695" y="634"/><rect x="1625" y="462"/><rect x="1541" y="713"/><rect x="1668" y="676"/><rect x="1622" y="305"/><rect x="1606" y="739"/><rect x="1591" y="663"/><rect x="1636" y="541"/><rect x="1667" y="581"/><rect x="1686" y="589"/><rect x="1631" y="702"/><rect x="1668" y="579"/><rect x="1655" y="785"/><rect x="1694" y="671"/><rect x="1608" y="584"/><rect x="1678" y="321"/><rect x="1626" y="747"/><rect x="1676" y="237"/><rect x="1670" y="730"/><rect x="1628" y="775"/><rect x="1630" y="758"/><rect x="1680" y="564"/><rect x="1625" y="397"/><rect x="1665" y="762"/><rect x="1728" y="700"/><rect x="1684" y="521"/><rect x="1675" y="282"/><rect x="1553" y="729"/><rect x="1700" y="668"/><rect x="1691" y="653"/><rect x="1717" y="704"/><rect x="1615" y="630"/><rect x="1668" y="396"/><rect x="1705" y="721"/><rect x="1621" y="317"/><rect x="1618" y="278"/><rect x="1683" y="548"/><rect x="1620" y="321"/><rect x="1679" y="589"/></g>
<path class="gl" d="M1602.5 50.3V817.5M1708.5 50.3V817.5M1369.5 651.7H1941.0"/>
<rect class="fr" x="1369.5" y="50.3" width="571.5" height="767.2"/>
<path class="tk" d="M1442.8 817.5V829.0M1548.8 817.5V829.0M1654.8 817.5V829.0M1760.8 817.5V829.0M1866.8 817.5V829.0M1360.0 683.0H1369.5M1360.0 575.5H1369.5M1360.0 467.9H1369.5M1360.0 360.4H1369.5M1360.0 252.9H1369.5M1360.0 145.4H1369.5"/>
<g class="k"><text transform="translate(1443.2 868.8) scale(.88 1.05)"><tspan font-size="47" dy="2.8" stroke="none">-</tspan><tspan dx="2" dy="-2.8">4</tspan></text><text transform="translate(1549.2 868.8) scale(.88 1.05)"><tspan font-size="47" dy="2.8" stroke="none">-</tspan><tspan dx="2" dy="-2.8">2</tspan></text><text transform="translate(1654.6 868.8) scale(.88 1.05)">0</text><text transform="translate(1760.6 868.8) scale(.88 1.05)">2</text><text transform="translate(1866.6 868.8) scale(.88 1.05)">4</text><text transform="translate(1340.5 695.5) scale(.88 1.05)">1</text><text transform="translate(1340.5 588.0) scale(.88 1.05)">2</text><text transform="translate(1340.5 480.6) scale(.88 1.05)">3</text><text transform="translate(1340.5 373.1) scale(.88 1.05)">4</text><text transform="translate(1340.5 265.6) scale(.88 1.05)">5</text><text transform="translate(1340.5 158.1) scale(.88 1.05)">6</text></g>
</g>
<text class="t" transform="translate(313.5 28.7) scale(1.018 1.05)">35AL vs 22AL</text>
<text class="t" transform="translate(918.5 28.7) scale(1.0 1.05)">22PF vs 22AL</text>
<text class="t" transform="translate(1553.5 28.7) scale(1.02 1.05)">35AL vs 22PF</text>
<text class="t" transform="translate(904 936) scale(1 1.04)" word-spacing="3">Log2 (fold change)</text>
<text class="t" transform="translate(32 605.3) rotate(-90)" style="font-weight:bold;font-size:42.4px;stroke-width:.1px">-Log10 (P value)</text>
<text class="ab" transform="translate(8 822.4) scale(1 1.065)">A</text>
<text class="ab" transform="translate(334.2 1464.2) scale(.985 1.05)">B</text>
<text class="t" transform="translate(660 1044.7) scale(1 1.04)">Up-regulated</text>
<text class="t" transform="translate(1259 1044.7) scale(1 1.04)">Down-regulated</text>
<g id="venn-up">
<defs><clipPath id="ca"><ellipse cx="633.3" cy="1270.3" rx="220.5" ry="107.2"/></clipPath><clipPath id="cb"><ellipse cx="872.3" cy="1277.5" rx="144.3" ry="86.0"/></clipPath><clipPath id="cc"><ellipse cx="688.3" cy="1338.2" rx="104.4" ry="104.8"/></clipPath></defs>
<ellipse cx="633.3" cy="1270.3" rx="220.5" ry="107.2" fill="#a6e5c3"/><ellipse cx="872.3" cy="1277.5" rx="144.3" ry="86.0" fill="#cdeab0"/><ellipse cx="688.3" cy="1338.2" rx="104.4" ry="104.8" fill="#c1d7f1"/>
<g clip-path="url(#ca)"><ellipse cx="872.3" cy="1277.5" rx="144.3" ry="86.0" fill="#9fda94"/><ellipse cx="688.3" cy="1338.2" rx="104.4" ry="104.8" fill="#88c4cc"/><g clip-path="url(#cb)"><ellipse cx="688.3" cy="1338.2" rx="104.4" ry="104.8" fill="#87bfab"/></g></g>
<g clip-path="url(#cb)"><g clip-path="url(#cc)"><ellipse cx="688.3" cy="1338.2" rx="104.4" ry="104.8" fill="#87bfab"/></g></g>
<ellipse cx="633.3" cy="1270.3" rx="220.5" ry="107.2" class="ve"/><g clip-path="url(#cb)"><ellipse cx="633.3" cy="1270.3" rx="220.5" ry="107.2" class="ve" style="stroke:#5f9379"/></g><ellipse cx="872.3" cy="1277.5" rx="144.3" ry="86.0" class="ve"/><g clip-path="url(#cc)"><ellipse cx="872.3" cy="1277.5" rx="144.3" ry="86.0" class="ve" style="stroke:#4877ae"/></g><ellipse cx="688.3" cy="1338.2" rx="104.4" ry="104.8" class="ve"/>
<text class="t" transform="translate(461 1141.5) scale(1.012 1.05)">35AL vs 22AL</text><text class="t" transform="translate(798.5 1175) scale(1.0 1.05)">22PF vs 22AL</text><text class="t" transform="translate(587.5 1503) scale(1.005 1.05)">35AL vs 22PF</text>
<text class="n" transform="translate(488.5 1279) scale(0.965 1.06)">334</text><text class="n" transform="translate(767 1261.5) scale(0.965 1.06)">14</text><text class="n" transform="translate(899 1284) scale(0.965 1.06)">145</text><text class="n" transform="translate(757.5 1326) scale(0.965 1.06)">3</text><text class="n" transform="translate(645.5 1350.7) scale(0.965 1.06)">309</text><text class="n" transform="translate(674.5 1417) scale(0.965 1.06)">154</text>
</g>
<g id="venn-down">
<defs><clipPath id="da"><ellipse cx="1318.8" cy="1244.8" rx="222.0" ry="105.7"/></clipPath><clipPath id="db"><ellipse cx="1511.5" cy="1245.8" rx="143.7" ry="87.5"/></clipPath><clipPath id="dc"><ellipse cx="1296.4" cy="1355.5" rx="143.7" ry="88.0"/></clipPath></defs>
<ellipse cx="1318.8" cy="1244.8" rx="222.0" ry="105.7" fill="#dcb9b9"/><ellipse cx="1511.5" cy="1245.8" rx="143.7" ry="87.5" fill="#efd3d3"/><ellipse cx="1296.4" cy="1355.5" rx="143.7" ry="88.0" fill="#fde9a5"/>
<g clip-path="url(#da)"><ellipse cx="1511.5" cy="1245.8" rx="143.7" ry="87.5" fill="#dba9a8"/><ellipse cx="1296.4" cy="1355.5" rx="143.7" ry="88.0" fill="#e8bb74"/></g>
<g clip-path="url(#db)"><ellipse cx="1296.4" cy="1355.5" rx="143.7" ry="88.0" fill="#f0cf8c"/></g>
<ellipse cx="1318.8" cy="1244.8" rx="222.0" ry="105.7" class="ve"/><g clip-path="url(#db)"><ellipse cx="1318.8" cy="1244.8" rx="222.0" ry="105.7" class="ve" style="stroke:#8c7a99"/></g><ellipse cx="1511.5" cy="1245.8" rx="143.7" ry="87.5" class="ve"/><g clip-path="url(#dc)"><ellipse cx="1318.8" cy="1244.8" rx="222.0" ry="105.7" class="ve" style="stroke:#8a8858"/><ellipse cx="1511.5" cy="1245.8" rx="143.7" ry="87.5" class="ve" style="stroke:#8a8858"/></g><ellipse cx="1296.4" cy="1355.5" rx="143.7" ry="88.0" class="ve"/>
<text class="t" transform="translate(1159.5 1117) scale(1.012 1.05)">35AL vs 22AL</text><text class="t" transform="translate(1466.5 1136.3) scale(0.998 1.05)">22PF vs 22AL</text><text class="t" transform="translate(1246.5 1497.6) scale(1.005 1.05)">35AL vs 22PF</text>
<text class="n" transform="translate(1212.5 1245.8) scale(0.965 1.06)">846</text><text class="n" transform="translate(1441 1258) scale(0.965 1.06)">99</text><text class="n" transform="translate(1560.5 1253.8) scale(0.965 1.06)">92</text><text class="n" transform="translate(1265 1334) scale(0.965 1.06)">216</text><text class="n" transform="translate(1262.5 1419.6) scale(0.965 1.06)">472</text>
</g>
</svg>
</body></html>
